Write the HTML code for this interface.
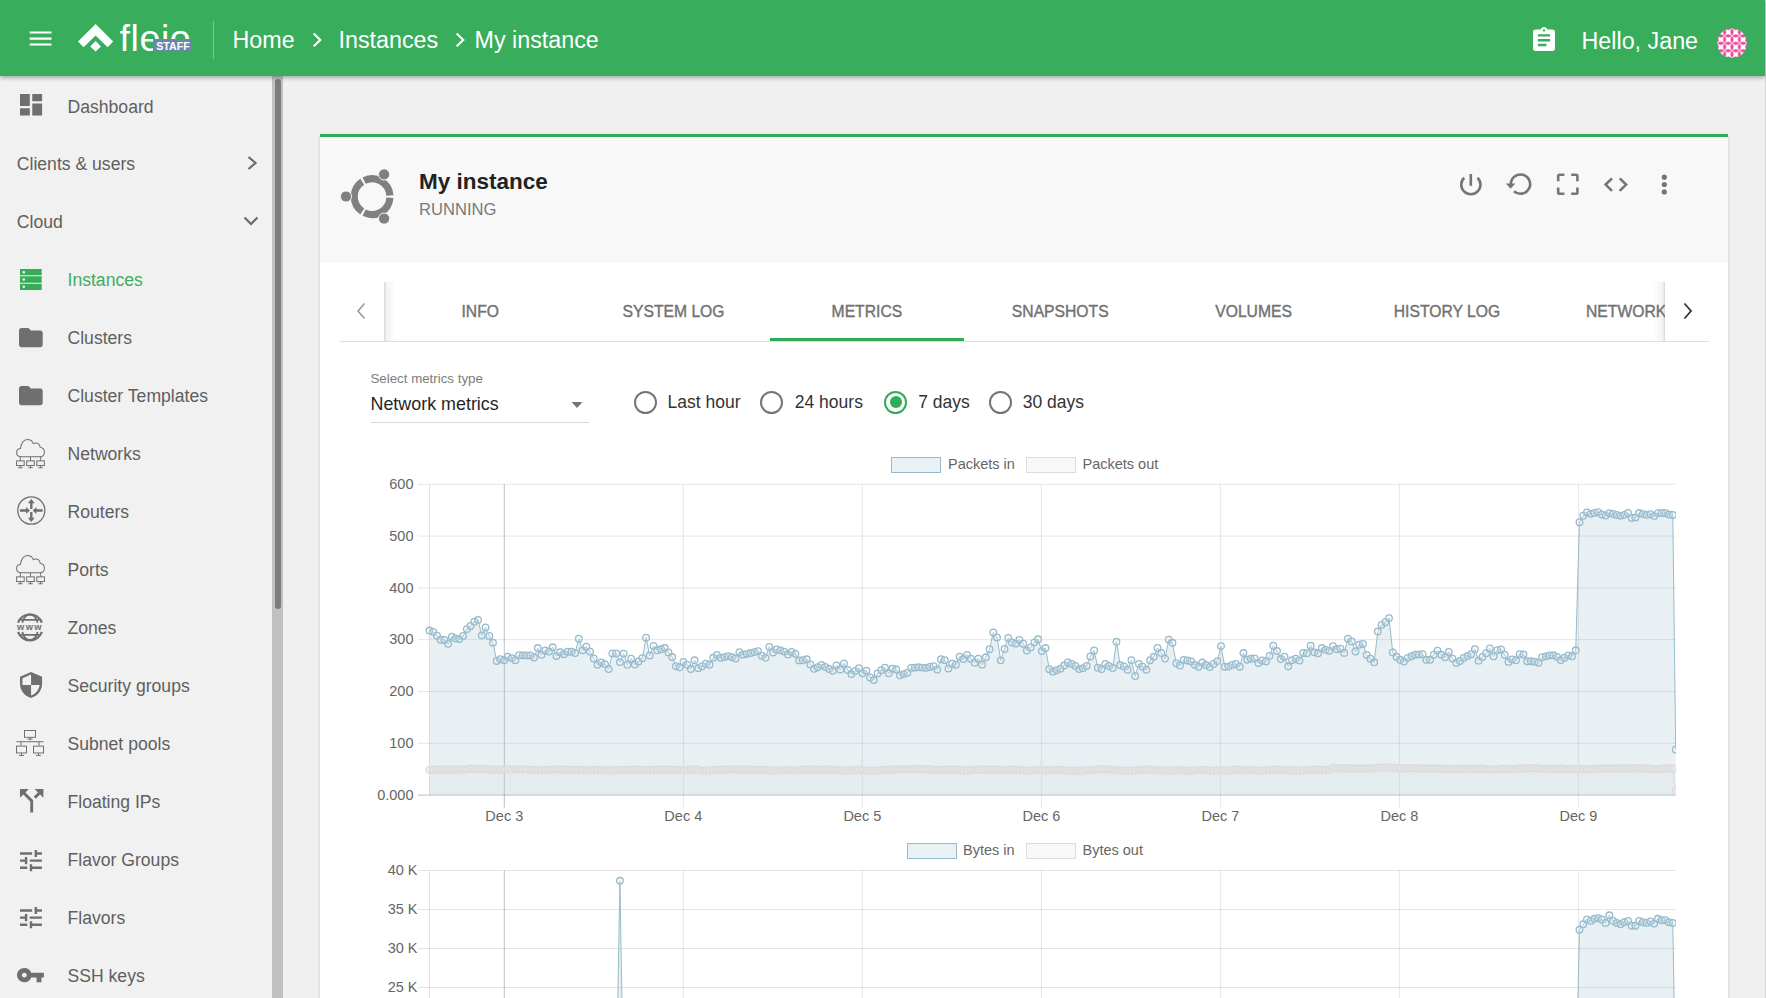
<!DOCTYPE html><html><head><meta charset="utf-8"><title>My instance</title><style>
*{box-sizing:border-box}
html,body{margin:0;padding:0;width:1766px;height:998px;overflow:hidden;background:#f0f0f0;font-family:"Liberation Sans", sans-serif}
.t{position:absolute;white-space:nowrap}
.ic{position:absolute;overflow:visible}
.ct{font-family:"Liberation Sans", sans-serif;font-size:14.5px;fill:#666}
</style></head><body>
<div style="position:absolute;left:1765px;top:0;width:1px;height:998px;background:#d4d4d4"></div>
<div style="position:absolute;left:320px;top:134px;width:1408px;height:900px;background:#fff;box-shadow:0 1px 2.5px rgba(0,0,0,0.2);border-top:3px solid #2fac58"></div>
<div style="position:absolute;left:320px;top:137px;width:1408px;height:126px;background:#f8f8f8"></div>
<svg class="ic" style="left:336px;top:164px;width:64px;height:64px" viewBox="336 164 64 64"><g fill="none" stroke="#808080" stroke-width="7.1"><path d="M389.92 197.69 A17.85 17.85 0 0 1 364.14 212.57"/><path d="M362.25 211.48 A17.85 17.85 0 0 1 362.25 181.72"/><path d="M364.14 180.63 A17.85 17.85 0 0 1 389.92 195.51"/></g><g fill="#808080" stroke="#f8f8f8" stroke-width="1"><circle cx="346" cy="196.5" r="5.6"/><circle cx="384.1" cy="174.4" r="5.6"/><circle cx="384.1" cy="218.6" r="5.6"/></g></svg>
<div class="t" style="left:419.00px;top:170.95px;font-size:22.5px;line-height:22.5px;color:#222;font-weight:bold;">My instance</div>
<div class="t" style="left:419.00px;top:201.55px;font-size:16.6px;line-height:16.6px;color:#7a7a7a;font-weight:normal;">RUNNING</div>
<svg class="ic" style="left:1450px;top:165px;width:230px;height:40px" viewBox="1450 165 230 40"><g fill="none" stroke="#757575" stroke-width="2.6"><path d="M1464.2 177.7 A9.6 9.6 0 1 0 1477.5 177.7"/><path d="M1470.8 174v11.8"/><path d="M1514 191.2 A9.6 9.6 0 1 0 1510.9 184.2"/><path d="M1558.2 181.2v-5.2a1.2 1.2 0 0 1 1.2-1.2h5M1571.2 174.8h5a1.2 1.2 0 0 1 1.2 1.2v5.2M1577.4 187.4v5.2a1.2 1.2 0 0 1-1.2 1.2h-5M1564.4 193.8h-5a1.2 1.2 0 0 1-1.2-1.2v-5.2"/><path d="M1612 178.4l-6.4 6.2 6.4 6.3M1619.7 178.4l6.4 6.2-6.4 6.3"/></g><path fill="#757575" d="M1505.8 183.6h9.6l-4.8 5.2z"/><g fill="#757575"><circle cx="1664.3" cy="177.2" r="2.6"/><circle cx="1664.3" cy="184.5" r="2.6"/><circle cx="1664.3" cy="191.9" r="2.6"/></g></svg>
<div style="position:absolute;left:340px;top:340.5px;width:1369px;height:1px;background:#dedede"></div>
<div style="position:absolute;left:383.5px;top:282px;width:12px;height:59px;background:linear-gradient(to right,rgba(0,0,0,0.16),rgba(0,0,0,0.05) 20%,rgba(0,0,0,0) 100%)"></div>
<div style="position:absolute;left:1653px;top:282px;width:12px;height:59px;background:linear-gradient(to left,rgba(0,0,0,0.16),rgba(0,0,0,0.05) 20%,rgba(0,0,0,0) 100%)"></div>
<svg class="ic" style="left:354px;top:302px;width:14px;height:18px" viewBox="0 0 14 18"><path d="M10.5 1.5 4 9l6.5 7.5" fill="none" stroke="#9a9a9a" stroke-width="1.6"/></svg>
<svg class="ic" style="left:1681px;top:302px;width:14px;height:18px" viewBox="0 0 14 18"><path d="M3.5 1.5 10 9l-6.5 7.5" fill="none" stroke="#333" stroke-width="1.8"/></svg>
<div class="t" style="left:383.50px;width:193.4px;text-align:center;top:303.71px;font-size:15.7px;line-height:15.7px;color:#727272;font-weight:normal;-webkit-text-stroke:0.4px #727272">INFO</div>
<div class="t" style="left:576.85px;width:193.4px;text-align:center;top:303.71px;font-size:15.7px;line-height:15.7px;color:#727272;font-weight:normal;-webkit-text-stroke:0.4px #727272">SYSTEM LOG</div>
<div class="t" style="left:770.20px;width:193.4px;text-align:center;top:303.71px;font-size:15.7px;line-height:15.7px;color:#727272;font-weight:normal;-webkit-text-stroke:0.4px #727272">METRICS</div>
<div class="t" style="left:963.55px;width:193.4px;text-align:center;top:303.71px;font-size:15.7px;line-height:15.7px;color:#727272;font-weight:normal;-webkit-text-stroke:0.4px #727272">SNAPSHOTS</div>
<div class="t" style="left:1156.90px;width:193.4px;text-align:center;top:303.71px;font-size:15.7px;line-height:15.7px;color:#727272;font-weight:normal;-webkit-text-stroke:0.4px #727272">VOLUMES</div>
<div class="t" style="left:1350.25px;width:193.4px;text-align:center;top:303.71px;font-size:15.7px;line-height:15.7px;color:#727272;font-weight:normal;-webkit-text-stroke:0.4px #727272">HISTORY LOG</div>
<div class="t" style="left:1586px;top:303.71px;width:79px;overflow:hidden;font-size:15.7px;line-height:15.7px;color:#727272;font-weight:normal;-webkit-text-stroke:0.4px #727272">NETWORKS</div>
<div style="position:absolute;left:770px;top:338px;width:194px;height:3px;background:#2fac58"></div>
<div class="t" style="left:370.50px;top:371.74px;font-size:13.3px;line-height:13.3px;color:#7d7d7d;font-weight:normal;">Select metrics type</div>
<div class="t" style="left:370.50px;top:396.35px;font-size:17.9px;line-height:17.9px;color:#262626;font-weight:normal;">Network metrics</div>
<svg class="ic" style="left:570px;top:401px;width:14px;height:8px" viewBox="0 0 14 8"><path d="M1.5 1h11L7 7z" fill="#757575"/></svg>
<div style="position:absolute;left:370.5px;top:421.5px;width:218px;height:1px;background:#d9d9d9"></div>
<div style="position:absolute;left:634.2px;top:390.5px;width:23px;height:23px;border-radius:50%;border:2px solid #757575"></div>
<div class="t" style="left:667.60px;top:394.39px;font-size:17.5px;line-height:17.5px;color:#333;font-weight:normal;">Last hour</div>
<div style="position:absolute;left:760.3px;top:390.5px;width:23px;height:23px;border-radius:50%;border:2px solid #757575"></div>
<div class="t" style="left:794.80px;top:394.39px;font-size:17.5px;line-height:17.5px;color:#333;font-weight:normal;">24 hours</div>
<div style="position:absolute;left:884.0px;top:390.5px;width:23px;height:23px;border-radius:50%;border:2px solid #2fac58"></div>
<div style="position:absolute;left:889.5px;top:396px;width:12px;height:12px;border-radius:50%;background:#2fac58"></div>
<div class="t" style="left:918.20px;top:394.39px;font-size:17.5px;line-height:17.5px;color:#333;font-weight:normal;">7 days</div>
<div style="position:absolute;left:989.0px;top:390.5px;width:23px;height:23px;border-radius:50%;border:2px solid #757575"></div>
<div class="t" style="left:1022.80px;top:394.39px;font-size:17.5px;line-height:17.5px;color:#333;font-weight:normal;">30 days</div>
<svg style="position:absolute;left:0;top:0;width:1766px;height:998px" viewBox="0 0 1766 998"><defs><clipPath id="c1"><rect x="425" y="470" width="1251" height="330"/></clipPath><clipPath id="c2"><rect x="425" y="860" width="1251" height="140"/></clipPath></defs><rect x="891.5" y="457.5" width="49" height="15" fill="rgba(151,187,205,0.2)" stroke="#97bbcd" stroke-width="1"/><text x="948" y="469" class="ct">Packets in</text><rect x="1026.5" y="457.5" width="49" height="15" fill="rgba(220,220,220,0.2)" stroke="#dcdcdc" stroke-width="1"/><text x="1082.5" y="469" class="ct">Packets out</text><line x1="418" y1="484.30" x2="1676" y2="484.30" stroke="rgba(0,0,0,0.1)" stroke-width="1"/><text x="413.5" y="488.90" class="ct" text-anchor="end">600</text><line x1="418" y1="536.10" x2="1676" y2="536.10" stroke="rgba(0,0,0,0.1)" stroke-width="1"/><text x="413.5" y="540.70" class="ct" text-anchor="end">500</text><line x1="418" y1="587.90" x2="1676" y2="587.90" stroke="rgba(0,0,0,0.1)" stroke-width="1"/><text x="413.5" y="592.50" class="ct" text-anchor="end">400</text><line x1="418" y1="639.70" x2="1676" y2="639.70" stroke="rgba(0,0,0,0.1)" stroke-width="1"/><text x="413.5" y="644.30" class="ct" text-anchor="end">300</text><line x1="418" y1="691.50" x2="1676" y2="691.50" stroke="rgba(0,0,0,0.1)" stroke-width="1"/><text x="413.5" y="696.10" class="ct" text-anchor="end">200</text><line x1="418" y1="743.30" x2="1676" y2="743.30" stroke="rgba(0,0,0,0.1)" stroke-width="1"/><text x="413.5" y="747.90" class="ct" text-anchor="end">100</text><line x1="418" y1="795.10" x2="1676" y2="795.10" stroke="rgba(0,0,0,0.25)" stroke-width="1"/><text x="413.5" y="799.70" class="ct" text-anchor="end">0.000</text><line x1="429.5" y1="484.3" x2="429.5" y2="795.1" stroke="rgba(0,0,0,0.1)"/><line x1="504.30" y1="484.3" x2="504.30" y2="807.5" stroke="rgba(0,0,0,0.25)"/><text x="504.30" y="821" class="ct" text-anchor="middle">Dec 3</text><line x1="683.32" y1="484.3" x2="683.32" y2="807.5" stroke="rgba(0,0,0,0.1)"/><text x="683.32" y="821" class="ct" text-anchor="middle">Dec 4</text><line x1="862.34" y1="484.3" x2="862.34" y2="807.5" stroke="rgba(0,0,0,0.1)"/><text x="862.34" y="821" class="ct" text-anchor="middle">Dec 5</text><line x1="1041.36" y1="484.3" x2="1041.36" y2="807.5" stroke="rgba(0,0,0,0.1)"/><text x="1041.36" y="821" class="ct" text-anchor="middle">Dec 6</text><line x1="1220.38" y1="484.3" x2="1220.38" y2="807.5" stroke="rgba(0,0,0,0.1)"/><text x="1220.38" y="821" class="ct" text-anchor="middle">Dec 7</text><line x1="1399.40" y1="484.3" x2="1399.40" y2="807.5" stroke="rgba(0,0,0,0.1)"/><text x="1399.40" y="821" class="ct" text-anchor="middle">Dec 8</text><line x1="1578.42" y1="484.3" x2="1578.42" y2="807.5" stroke="rgba(0,0,0,0.1)"/><text x="1578.42" y="821" class="ct" text-anchor="middle">Dec 9</text><g clip-path="url(#c1)"><polygon points="429.50,795.1 429.50,630.56 433.23,631.84 436.97,635.66 440.70,639.80 444.43,639.96 448.17,643.87 451.90,636.74 455.64,638.39 459.37,639.12 463.10,636.00 466.84,629.09 470.57,626.02 474.30,621.75 478.04,619.90 481.77,635.35 485.50,627.51 489.24,635.90 492.97,642.70 496.71,660.95 500.44,659.11 504.17,660.24 507.91,656.69 511.64,658.12 515.37,660.13 519.11,655.17 522.84,655.22 526.57,655.40 530.31,655.40 534.04,657.52 537.78,648.04 541.51,654.79 545.24,650.41 548.98,651.61 552.71,647.32 556.44,655.96 560.18,652.32 563.91,654.19 567.64,651.70 571.38,651.70 575.11,653.00 578.85,638.74 582.58,650.33 586.31,646.72 590.05,651.63 593.78,658.46 597.51,664.69 601.25,662.33 604.98,664.09 608.71,669.10 612.45,653.50 616.18,653.50 619.92,662.10 623.65,653.62 627.38,664.65 631.12,658.64 634.85,664.55 638.58,661.55 642.32,658.17 646.05,637.70 649.78,655.50 653.52,645.99 657.25,650.30 660.99,649.30 664.72,648.06 668.45,652.41 672.19,657.03 675.92,666.24 679.65,667.28 683.39,662.01 687.12,664.65 690.85,669.03 694.59,660.32 698.32,668.18 702.06,666.23 705.79,663.74 709.52,664.74 713.26,657.78 716.99,654.94 720.72,657.85 724.46,657.10 728.19,656.15 731.92,657.27 735.66,658.52 739.39,652.09 743.13,654.58 746.86,653.96 750.59,653.05 754.33,652.11 758.06,651.16 761.79,655.70 765.53,657.86 769.26,646.87 772.99,652.44 776.73,649.48 780.46,650.35 784.20,651.60 787.93,654.57 791.66,651.90 795.40,653.87 799.13,660.42 802.86,660.22 806.60,659.28 810.33,664.39 814.06,668.81 817.80,667.18 821.53,664.96 825.27,666.83 829.00,669.02 832.73,670.83 836.47,665.36 840.20,669.43 843.93,663.42 847.67,670.00 851.40,674.03 855.13,670.90 858.87,668.15 862.60,673.34 866.34,670.65 870.07,677.44 873.80,680.03 877.54,673.39 881.27,670.26 885.00,667.63 888.74,673.32 892.47,668.64 896.20,669.54 899.94,675.35 903.67,674.11 907.41,672.76 911.14,667.89 914.87,667.59 918.61,667.31 922.34,667.61 926.07,667.88 929.81,666.97 933.54,666.24 937.27,669.59 941.01,659.22 944.74,660.13 948.48,668.50 952.21,663.63 955.94,664.71 959.68,656.75 963.41,659.07 967.14,654.84 970.88,658.69 974.61,662.77 978.34,658.67 982.08,664.65 985.81,657.28 989.55,649.20 993.28,632.50 997.01,637.40 1000.75,660.36 1004.48,648.97 1008.21,638.02 1011.95,642.41 1015.68,643.59 1019.41,639.91 1023.15,643.69 1026.88,650.47 1030.62,647.38 1034.35,642.36 1038.08,639.31 1041.82,651.09 1045.55,648.04 1049.28,669.20 1053.02,671.65 1056.75,670.19 1060.48,668.65 1064.22,665.56 1067.95,662.42 1071.68,663.93 1075.42,665.92 1079.15,669.08 1082.89,668.13 1086.62,665.93 1090.35,656.47 1094.09,650.50 1097.82,667.64 1101.55,669.04 1105.29,663.88 1109.02,666.02 1112.75,667.90 1116.49,641.80 1120.22,664.96 1123.96,666.41 1127.69,669.75 1131.42,660.25 1135.16,676.00 1138.89,663.86 1142.62,666.66 1146.36,669.74 1150.09,660.24 1153.82,656.78 1157.56,648.00 1161.29,653.06 1165.03,658.60 1168.76,639.61 1172.49,642.82 1176.23,663.26 1179.96,665.49 1183.69,659.87 1187.43,660.52 1191.16,661.46 1194.89,665.07 1198.63,666.74 1202.36,662.54 1206.10,665.03 1209.83,667.02 1213.56,663.90 1217.30,661.10 1221.03,646.10 1224.76,666.70 1228.50,666.58 1232.23,665.01 1235.96,663.90 1239.70,666.70 1243.43,653.06 1247.17,659.71 1250.90,658.82 1254.63,658.49 1258.37,663.07 1262.10,660.51 1265.83,661.38 1269.57,655.91 1273.30,645.77 1277.03,651.04 1280.77,659.06 1284.50,656.68 1288.24,666.31 1291.97,660.32 1295.70,658.73 1299.44,660.50 1303.17,652.93 1306.90,653.17 1310.64,645.75 1314.37,652.36 1318.10,653.30 1321.84,648.07 1325.57,649.86 1329.31,650.83 1333.04,646.22 1336.77,649.17 1340.51,648.72 1344.24,652.90 1347.97,638.71 1351.71,641.41 1355.44,651.44 1359.17,644.74 1362.91,643.93 1366.64,654.94 1370.38,658.68 1374.11,662.30 1377.84,631.54 1381.58,624.85 1385.31,622.27 1389.04,618.10 1392.78,652.39 1396.51,656.79 1400.24,659.82 1403.98,661.62 1407.71,657.85 1411.45,656.31 1415.18,654.79 1418.91,654.49 1422.65,654.27 1426.38,659.80 1430.11,659.78 1433.85,654.74 1437.58,650.59 1441.31,654.81 1445.05,657.23 1448.78,651.85 1452.52,658.62 1456.25,662.88 1459.98,661.01 1463.72,657.89 1467.45,656.05 1471.18,654.21 1474.92,649.20 1478.65,660.65 1482.38,656.92 1486.12,653.15 1489.85,648.49 1493.59,656.28 1497.32,650.22 1501.05,649.38 1504.79,654.98 1508.52,661.91 1512.25,659.36 1515.99,660.30 1519.72,654.12 1523.45,654.51 1527.19,661.30 1530.92,661.30 1534.66,661.63 1538.39,662.72 1542.12,657.27 1545.86,656.34 1549.59,655.40 1553.32,655.30 1557.06,656.83 1560.79,660.09 1564.52,657.66 1568.26,655.36 1571.99,656.30 1575.73,650.30 1579.46,522.20 1583.19,515.74 1586.93,512.46 1590.66,513.83 1594.39,512.90 1598.13,512.08 1601.86,514.43 1605.59,515.55 1609.33,513.08 1613.06,514.02 1616.80,514.95 1620.53,515.87 1624.26,514.87 1628.00,513.00 1631.73,518.00 1635.46,517.42 1639.20,513.05 1642.93,513.98 1646.66,514.92 1650.40,514.20 1654.13,515.90 1657.87,513.10 1661.60,513.00 1665.33,513.00 1669.07,514.53 1672.80,515.00 1675.70,749.60 1675.70,795.1" fill="rgba(151,187,205,0.22)"/><polyline points="429.50,630.56 433.23,631.84 436.97,635.66 440.70,639.80 444.43,639.96 448.17,643.87 451.90,636.74 455.64,638.39 459.37,639.12 463.10,636.00 466.84,629.09 470.57,626.02 474.30,621.75 478.04,619.90 481.77,635.35 485.50,627.51 489.24,635.90 492.97,642.70 496.71,660.95 500.44,659.11 504.17,660.24 507.91,656.69 511.64,658.12 515.37,660.13 519.11,655.17 522.84,655.22 526.57,655.40 530.31,655.40 534.04,657.52 537.78,648.04 541.51,654.79 545.24,650.41 548.98,651.61 552.71,647.32 556.44,655.96 560.18,652.32 563.91,654.19 567.64,651.70 571.38,651.70 575.11,653.00 578.85,638.74 582.58,650.33 586.31,646.72 590.05,651.63 593.78,658.46 597.51,664.69 601.25,662.33 604.98,664.09 608.71,669.10 612.45,653.50 616.18,653.50 619.92,662.10 623.65,653.62 627.38,664.65 631.12,658.64 634.85,664.55 638.58,661.55 642.32,658.17 646.05,637.70 649.78,655.50 653.52,645.99 657.25,650.30 660.99,649.30 664.72,648.06 668.45,652.41 672.19,657.03 675.92,666.24 679.65,667.28 683.39,662.01 687.12,664.65 690.85,669.03 694.59,660.32 698.32,668.18 702.06,666.23 705.79,663.74 709.52,664.74 713.26,657.78 716.99,654.94 720.72,657.85 724.46,657.10 728.19,656.15 731.92,657.27 735.66,658.52 739.39,652.09 743.13,654.58 746.86,653.96 750.59,653.05 754.33,652.11 758.06,651.16 761.79,655.70 765.53,657.86 769.26,646.87 772.99,652.44 776.73,649.48 780.46,650.35 784.20,651.60 787.93,654.57 791.66,651.90 795.40,653.87 799.13,660.42 802.86,660.22 806.60,659.28 810.33,664.39 814.06,668.81 817.80,667.18 821.53,664.96 825.27,666.83 829.00,669.02 832.73,670.83 836.47,665.36 840.20,669.43 843.93,663.42 847.67,670.00 851.40,674.03 855.13,670.90 858.87,668.15 862.60,673.34 866.34,670.65 870.07,677.44 873.80,680.03 877.54,673.39 881.27,670.26 885.00,667.63 888.74,673.32 892.47,668.64 896.20,669.54 899.94,675.35 903.67,674.11 907.41,672.76 911.14,667.89 914.87,667.59 918.61,667.31 922.34,667.61 926.07,667.88 929.81,666.97 933.54,666.24 937.27,669.59 941.01,659.22 944.74,660.13 948.48,668.50 952.21,663.63 955.94,664.71 959.68,656.75 963.41,659.07 967.14,654.84 970.88,658.69 974.61,662.77 978.34,658.67 982.08,664.65 985.81,657.28 989.55,649.20 993.28,632.50 997.01,637.40 1000.75,660.36 1004.48,648.97 1008.21,638.02 1011.95,642.41 1015.68,643.59 1019.41,639.91 1023.15,643.69 1026.88,650.47 1030.62,647.38 1034.35,642.36 1038.08,639.31 1041.82,651.09 1045.55,648.04 1049.28,669.20 1053.02,671.65 1056.75,670.19 1060.48,668.65 1064.22,665.56 1067.95,662.42 1071.68,663.93 1075.42,665.92 1079.15,669.08 1082.89,668.13 1086.62,665.93 1090.35,656.47 1094.09,650.50 1097.82,667.64 1101.55,669.04 1105.29,663.88 1109.02,666.02 1112.75,667.90 1116.49,641.80 1120.22,664.96 1123.96,666.41 1127.69,669.75 1131.42,660.25 1135.16,676.00 1138.89,663.86 1142.62,666.66 1146.36,669.74 1150.09,660.24 1153.82,656.78 1157.56,648.00 1161.29,653.06 1165.03,658.60 1168.76,639.61 1172.49,642.82 1176.23,663.26 1179.96,665.49 1183.69,659.87 1187.43,660.52 1191.16,661.46 1194.89,665.07 1198.63,666.74 1202.36,662.54 1206.10,665.03 1209.83,667.02 1213.56,663.90 1217.30,661.10 1221.03,646.10 1224.76,666.70 1228.50,666.58 1232.23,665.01 1235.96,663.90 1239.70,666.70 1243.43,653.06 1247.17,659.71 1250.90,658.82 1254.63,658.49 1258.37,663.07 1262.10,660.51 1265.83,661.38 1269.57,655.91 1273.30,645.77 1277.03,651.04 1280.77,659.06 1284.50,656.68 1288.24,666.31 1291.97,660.32 1295.70,658.73 1299.44,660.50 1303.17,652.93 1306.90,653.17 1310.64,645.75 1314.37,652.36 1318.10,653.30 1321.84,648.07 1325.57,649.86 1329.31,650.83 1333.04,646.22 1336.77,649.17 1340.51,648.72 1344.24,652.90 1347.97,638.71 1351.71,641.41 1355.44,651.44 1359.17,644.74 1362.91,643.93 1366.64,654.94 1370.38,658.68 1374.11,662.30 1377.84,631.54 1381.58,624.85 1385.31,622.27 1389.04,618.10 1392.78,652.39 1396.51,656.79 1400.24,659.82 1403.98,661.62 1407.71,657.85 1411.45,656.31 1415.18,654.79 1418.91,654.49 1422.65,654.27 1426.38,659.80 1430.11,659.78 1433.85,654.74 1437.58,650.59 1441.31,654.81 1445.05,657.23 1448.78,651.85 1452.52,658.62 1456.25,662.88 1459.98,661.01 1463.72,657.89 1467.45,656.05 1471.18,654.21 1474.92,649.20 1478.65,660.65 1482.38,656.92 1486.12,653.15 1489.85,648.49 1493.59,656.28 1497.32,650.22 1501.05,649.38 1504.79,654.98 1508.52,661.91 1512.25,659.36 1515.99,660.30 1519.72,654.12 1523.45,654.51 1527.19,661.30 1530.92,661.30 1534.66,661.63 1538.39,662.72 1542.12,657.27 1545.86,656.34 1549.59,655.40 1553.32,655.30 1557.06,656.83 1560.79,660.09 1564.52,657.66 1568.26,655.36 1571.99,656.30 1575.73,650.30 1579.46,522.20 1583.19,515.74 1586.93,512.46 1590.66,513.83 1594.39,512.90 1598.13,512.08 1601.86,514.43 1605.59,515.55 1609.33,513.08 1613.06,514.02 1616.80,514.95 1620.53,515.87 1624.26,514.87 1628.00,513.00 1631.73,518.00 1635.46,517.42 1639.20,513.05 1642.93,513.98 1646.66,514.92 1650.40,514.20 1654.13,515.90 1657.87,513.10 1661.60,513.00 1665.33,513.00 1669.07,514.53 1672.80,515.00 1675.70,749.60" fill="none" stroke="#97bbcd" stroke-width="1"/><g fill="rgba(232,239,243,0.25)" stroke="#97bbcd" stroke-width="1.3"><circle cx="429.50" cy="630.56" r="3.3"/><circle cx="433.23" cy="631.84" r="3.3"/><circle cx="436.97" cy="635.66" r="3.3"/><circle cx="440.70" cy="639.80" r="3.3"/><circle cx="444.43" cy="639.96" r="3.3"/><circle cx="448.17" cy="643.87" r="3.3"/><circle cx="451.90" cy="636.74" r="3.3"/><circle cx="455.64" cy="638.39" r="3.3"/><circle cx="459.37" cy="639.12" r="3.3"/><circle cx="463.10" cy="636.00" r="3.3"/><circle cx="466.84" cy="629.09" r="3.3"/><circle cx="470.57" cy="626.02" r="3.3"/><circle cx="474.30" cy="621.75" r="3.3"/><circle cx="478.04" cy="619.90" r="3.3"/><circle cx="481.77" cy="635.35" r="3.3"/><circle cx="485.50" cy="627.51" r="3.3"/><circle cx="489.24" cy="635.90" r="3.3"/><circle cx="492.97" cy="642.70" r="3.3"/><circle cx="496.71" cy="660.95" r="3.3"/><circle cx="500.44" cy="659.11" r="3.3"/><circle cx="504.17" cy="660.24" r="3.3"/><circle cx="507.91" cy="656.69" r="3.3"/><circle cx="511.64" cy="658.12" r="3.3"/><circle cx="515.37" cy="660.13" r="3.3"/><circle cx="519.11" cy="655.17" r="3.3"/><circle cx="522.84" cy="655.22" r="3.3"/><circle cx="526.57" cy="655.40" r="3.3"/><circle cx="530.31" cy="655.40" r="3.3"/><circle cx="534.04" cy="657.52" r="3.3"/><circle cx="537.78" cy="648.04" r="3.3"/><circle cx="541.51" cy="654.79" r="3.3"/><circle cx="545.24" cy="650.41" r="3.3"/><circle cx="548.98" cy="651.61" r="3.3"/><circle cx="552.71" cy="647.32" r="3.3"/><circle cx="556.44" cy="655.96" r="3.3"/><circle cx="560.18" cy="652.32" r="3.3"/><circle cx="563.91" cy="654.19" r="3.3"/><circle cx="567.64" cy="651.70" r="3.3"/><circle cx="571.38" cy="651.70" r="3.3"/><circle cx="575.11" cy="653.00" r="3.3"/><circle cx="578.85" cy="638.74" r="3.3"/><circle cx="582.58" cy="650.33" r="3.3"/><circle cx="586.31" cy="646.72" r="3.3"/><circle cx="590.05" cy="651.63" r="3.3"/><circle cx="593.78" cy="658.46" r="3.3"/><circle cx="597.51" cy="664.69" r="3.3"/><circle cx="601.25" cy="662.33" r="3.3"/><circle cx="604.98" cy="664.09" r="3.3"/><circle cx="608.71" cy="669.10" r="3.3"/><circle cx="612.45" cy="653.50" r="3.3"/><circle cx="616.18" cy="653.50" r="3.3"/><circle cx="619.92" cy="662.10" r="3.3"/><circle cx="623.65" cy="653.62" r="3.3"/><circle cx="627.38" cy="664.65" r="3.3"/><circle cx="631.12" cy="658.64" r="3.3"/><circle cx="634.85" cy="664.55" r="3.3"/><circle cx="638.58" cy="661.55" r="3.3"/><circle cx="642.32" cy="658.17" r="3.3"/><circle cx="646.05" cy="637.70" r="3.3"/><circle cx="649.78" cy="655.50" r="3.3"/><circle cx="653.52" cy="645.99" r="3.3"/><circle cx="657.25" cy="650.30" r="3.3"/><circle cx="660.99" cy="649.30" r="3.3"/><circle cx="664.72" cy="648.06" r="3.3"/><circle cx="668.45" cy="652.41" r="3.3"/><circle cx="672.19" cy="657.03" r="3.3"/><circle cx="675.92" cy="666.24" r="3.3"/><circle cx="679.65" cy="667.28" r="3.3"/><circle cx="683.39" cy="662.01" r="3.3"/><circle cx="687.12" cy="664.65" r="3.3"/><circle cx="690.85" cy="669.03" r="3.3"/><circle cx="694.59" cy="660.32" r="3.3"/><circle cx="698.32" cy="668.18" r="3.3"/><circle cx="702.06" cy="666.23" r="3.3"/><circle cx="705.79" cy="663.74" r="3.3"/><circle cx="709.52" cy="664.74" r="3.3"/><circle cx="713.26" cy="657.78" r="3.3"/><circle cx="716.99" cy="654.94" r="3.3"/><circle cx="720.72" cy="657.85" r="3.3"/><circle cx="724.46" cy="657.10" r="3.3"/><circle cx="728.19" cy="656.15" r="3.3"/><circle cx="731.92" cy="657.27" r="3.3"/><circle cx="735.66" cy="658.52" r="3.3"/><circle cx="739.39" cy="652.09" r="3.3"/><circle cx="743.13" cy="654.58" r="3.3"/><circle cx="746.86" cy="653.96" r="3.3"/><circle cx="750.59" cy="653.05" r="3.3"/><circle cx="754.33" cy="652.11" r="3.3"/><circle cx="758.06" cy="651.16" r="3.3"/><circle cx="761.79" cy="655.70" r="3.3"/><circle cx="765.53" cy="657.86" r="3.3"/><circle cx="769.26" cy="646.87" r="3.3"/><circle cx="772.99" cy="652.44" r="3.3"/><circle cx="776.73" cy="649.48" r="3.3"/><circle cx="780.46" cy="650.35" r="3.3"/><circle cx="784.20" cy="651.60" r="3.3"/><circle cx="787.93" cy="654.57" r="3.3"/><circle cx="791.66" cy="651.90" r="3.3"/><circle cx="795.40" cy="653.87" r="3.3"/><circle cx="799.13" cy="660.42" r="3.3"/><circle cx="802.86" cy="660.22" r="3.3"/><circle cx="806.60" cy="659.28" r="3.3"/><circle cx="810.33" cy="664.39" r="3.3"/><circle cx="814.06" cy="668.81" r="3.3"/><circle cx="817.80" cy="667.18" r="3.3"/><circle cx="821.53" cy="664.96" r="3.3"/><circle cx="825.27" cy="666.83" r="3.3"/><circle cx="829.00" cy="669.02" r="3.3"/><circle cx="832.73" cy="670.83" r="3.3"/><circle cx="836.47" cy="665.36" r="3.3"/><circle cx="840.20" cy="669.43" r="3.3"/><circle cx="843.93" cy="663.42" r="3.3"/><circle cx="847.67" cy="670.00" r="3.3"/><circle cx="851.40" cy="674.03" r="3.3"/><circle cx="855.13" cy="670.90" r="3.3"/><circle cx="858.87" cy="668.15" r="3.3"/><circle cx="862.60" cy="673.34" r="3.3"/><circle cx="866.34" cy="670.65" r="3.3"/><circle cx="870.07" cy="677.44" r="3.3"/><circle cx="873.80" cy="680.03" r="3.3"/><circle cx="877.54" cy="673.39" r="3.3"/><circle cx="881.27" cy="670.26" r="3.3"/><circle cx="885.00" cy="667.63" r="3.3"/><circle cx="888.74" cy="673.32" r="3.3"/><circle cx="892.47" cy="668.64" r="3.3"/><circle cx="896.20" cy="669.54" r="3.3"/><circle cx="899.94" cy="675.35" r="3.3"/><circle cx="903.67" cy="674.11" r="3.3"/><circle cx="907.41" cy="672.76" r="3.3"/><circle cx="911.14" cy="667.89" r="3.3"/><circle cx="914.87" cy="667.59" r="3.3"/><circle cx="918.61" cy="667.31" r="3.3"/><circle cx="922.34" cy="667.61" r="3.3"/><circle cx="926.07" cy="667.88" r="3.3"/><circle cx="929.81" cy="666.97" r="3.3"/><circle cx="933.54" cy="666.24" r="3.3"/><circle cx="937.27" cy="669.59" r="3.3"/><circle cx="941.01" cy="659.22" r="3.3"/><circle cx="944.74" cy="660.13" r="3.3"/><circle cx="948.48" cy="668.50" r="3.3"/><circle cx="952.21" cy="663.63" r="3.3"/><circle cx="955.94" cy="664.71" r="3.3"/><circle cx="959.68" cy="656.75" r="3.3"/><circle cx="963.41" cy="659.07" r="3.3"/><circle cx="967.14" cy="654.84" r="3.3"/><circle cx="970.88" cy="658.69" r="3.3"/><circle cx="974.61" cy="662.77" r="3.3"/><circle cx="978.34" cy="658.67" r="3.3"/><circle cx="982.08" cy="664.65" r="3.3"/><circle cx="985.81" cy="657.28" r="3.3"/><circle cx="989.55" cy="649.20" r="3.3"/><circle cx="993.28" cy="632.50" r="3.3"/><circle cx="997.01" cy="637.40" r="3.3"/><circle cx="1000.75" cy="660.36" r="3.3"/><circle cx="1004.48" cy="648.97" r="3.3"/><circle cx="1008.21" cy="638.02" r="3.3"/><circle cx="1011.95" cy="642.41" r="3.3"/><circle cx="1015.68" cy="643.59" r="3.3"/><circle cx="1019.41" cy="639.91" r="3.3"/><circle cx="1023.15" cy="643.69" r="3.3"/><circle cx="1026.88" cy="650.47" r="3.3"/><circle cx="1030.62" cy="647.38" r="3.3"/><circle cx="1034.35" cy="642.36" r="3.3"/><circle cx="1038.08" cy="639.31" r="3.3"/><circle cx="1041.82" cy="651.09" r="3.3"/><circle cx="1045.55" cy="648.04" r="3.3"/><circle cx="1049.28" cy="669.20" r="3.3"/><circle cx="1053.02" cy="671.65" r="3.3"/><circle cx="1056.75" cy="670.19" r="3.3"/><circle cx="1060.48" cy="668.65" r="3.3"/><circle cx="1064.22" cy="665.56" r="3.3"/><circle cx="1067.95" cy="662.42" r="3.3"/><circle cx="1071.68" cy="663.93" r="3.3"/><circle cx="1075.42" cy="665.92" r="3.3"/><circle cx="1079.15" cy="669.08" r="3.3"/><circle cx="1082.89" cy="668.13" r="3.3"/><circle cx="1086.62" cy="665.93" r="3.3"/><circle cx="1090.35" cy="656.47" r="3.3"/><circle cx="1094.09" cy="650.50" r="3.3"/><circle cx="1097.82" cy="667.64" r="3.3"/><circle cx="1101.55" cy="669.04" r="3.3"/><circle cx="1105.29" cy="663.88" r="3.3"/><circle cx="1109.02" cy="666.02" r="3.3"/><circle cx="1112.75" cy="667.90" r="3.3"/><circle cx="1116.49" cy="641.80" r="3.3"/><circle cx="1120.22" cy="664.96" r="3.3"/><circle cx="1123.96" cy="666.41" r="3.3"/><circle cx="1127.69" cy="669.75" r="3.3"/><circle cx="1131.42" cy="660.25" r="3.3"/><circle cx="1135.16" cy="676.00" r="3.3"/><circle cx="1138.89" cy="663.86" r="3.3"/><circle cx="1142.62" cy="666.66" r="3.3"/><circle cx="1146.36" cy="669.74" r="3.3"/><circle cx="1150.09" cy="660.24" r="3.3"/><circle cx="1153.82" cy="656.78" r="3.3"/><circle cx="1157.56" cy="648.00" r="3.3"/><circle cx="1161.29" cy="653.06" r="3.3"/><circle cx="1165.03" cy="658.60" r="3.3"/><circle cx="1168.76" cy="639.61" r="3.3"/><circle cx="1172.49" cy="642.82" r="3.3"/><circle cx="1176.23" cy="663.26" r="3.3"/><circle cx="1179.96" cy="665.49" r="3.3"/><circle cx="1183.69" cy="659.87" r="3.3"/><circle cx="1187.43" cy="660.52" r="3.3"/><circle cx="1191.16" cy="661.46" r="3.3"/><circle cx="1194.89" cy="665.07" r="3.3"/><circle cx="1198.63" cy="666.74" r="3.3"/><circle cx="1202.36" cy="662.54" r="3.3"/><circle cx="1206.10" cy="665.03" r="3.3"/><circle cx="1209.83" cy="667.02" r="3.3"/><circle cx="1213.56" cy="663.90" r="3.3"/><circle cx="1217.30" cy="661.10" r="3.3"/><circle cx="1221.03" cy="646.10" r="3.3"/><circle cx="1224.76" cy="666.70" r="3.3"/><circle cx="1228.50" cy="666.58" r="3.3"/><circle cx="1232.23" cy="665.01" r="3.3"/><circle cx="1235.96" cy="663.90" r="3.3"/><circle cx="1239.70" cy="666.70" r="3.3"/><circle cx="1243.43" cy="653.06" r="3.3"/><circle cx="1247.17" cy="659.71" r="3.3"/><circle cx="1250.90" cy="658.82" r="3.3"/><circle cx="1254.63" cy="658.49" r="3.3"/><circle cx="1258.37" cy="663.07" r="3.3"/><circle cx="1262.10" cy="660.51" r="3.3"/><circle cx="1265.83" cy="661.38" r="3.3"/><circle cx="1269.57" cy="655.91" r="3.3"/><circle cx="1273.30" cy="645.77" r="3.3"/><circle cx="1277.03" cy="651.04" r="3.3"/><circle cx="1280.77" cy="659.06" r="3.3"/><circle cx="1284.50" cy="656.68" r="3.3"/><circle cx="1288.24" cy="666.31" r="3.3"/><circle cx="1291.97" cy="660.32" r="3.3"/><circle cx="1295.70" cy="658.73" r="3.3"/><circle cx="1299.44" cy="660.50" r="3.3"/><circle cx="1303.17" cy="652.93" r="3.3"/><circle cx="1306.90" cy="653.17" r="3.3"/><circle cx="1310.64" cy="645.75" r="3.3"/><circle cx="1314.37" cy="652.36" r="3.3"/><circle cx="1318.10" cy="653.30" r="3.3"/><circle cx="1321.84" cy="648.07" r="3.3"/><circle cx="1325.57" cy="649.86" r="3.3"/><circle cx="1329.31" cy="650.83" r="3.3"/><circle cx="1333.04" cy="646.22" r="3.3"/><circle cx="1336.77" cy="649.17" r="3.3"/><circle cx="1340.51" cy="648.72" r="3.3"/><circle cx="1344.24" cy="652.90" r="3.3"/><circle cx="1347.97" cy="638.71" r="3.3"/><circle cx="1351.71" cy="641.41" r="3.3"/><circle cx="1355.44" cy="651.44" r="3.3"/><circle cx="1359.17" cy="644.74" r="3.3"/><circle cx="1362.91" cy="643.93" r="3.3"/><circle cx="1366.64" cy="654.94" r="3.3"/><circle cx="1370.38" cy="658.68" r="3.3"/><circle cx="1374.11" cy="662.30" r="3.3"/><circle cx="1377.84" cy="631.54" r="3.3"/><circle cx="1381.58" cy="624.85" r="3.3"/><circle cx="1385.31" cy="622.27" r="3.3"/><circle cx="1389.04" cy="618.10" r="3.3"/><circle cx="1392.78" cy="652.39" r="3.3"/><circle cx="1396.51" cy="656.79" r="3.3"/><circle cx="1400.24" cy="659.82" r="3.3"/><circle cx="1403.98" cy="661.62" r="3.3"/><circle cx="1407.71" cy="657.85" r="3.3"/><circle cx="1411.45" cy="656.31" r="3.3"/><circle cx="1415.18" cy="654.79" r="3.3"/><circle cx="1418.91" cy="654.49" r="3.3"/><circle cx="1422.65" cy="654.27" r="3.3"/><circle cx="1426.38" cy="659.80" r="3.3"/><circle cx="1430.11" cy="659.78" r="3.3"/><circle cx="1433.85" cy="654.74" r="3.3"/><circle cx="1437.58" cy="650.59" r="3.3"/><circle cx="1441.31" cy="654.81" r="3.3"/><circle cx="1445.05" cy="657.23" r="3.3"/><circle cx="1448.78" cy="651.85" r="3.3"/><circle cx="1452.52" cy="658.62" r="3.3"/><circle cx="1456.25" cy="662.88" r="3.3"/><circle cx="1459.98" cy="661.01" r="3.3"/><circle cx="1463.72" cy="657.89" r="3.3"/><circle cx="1467.45" cy="656.05" r="3.3"/><circle cx="1471.18" cy="654.21" r="3.3"/><circle cx="1474.92" cy="649.20" r="3.3"/><circle cx="1478.65" cy="660.65" r="3.3"/><circle cx="1482.38" cy="656.92" r="3.3"/><circle cx="1486.12" cy="653.15" r="3.3"/><circle cx="1489.85" cy="648.49" r="3.3"/><circle cx="1493.59" cy="656.28" r="3.3"/><circle cx="1497.32" cy="650.22" r="3.3"/><circle cx="1501.05" cy="649.38" r="3.3"/><circle cx="1504.79" cy="654.98" r="3.3"/><circle cx="1508.52" cy="661.91" r="3.3"/><circle cx="1512.25" cy="659.36" r="3.3"/><circle cx="1515.99" cy="660.30" r="3.3"/><circle cx="1519.72" cy="654.12" r="3.3"/><circle cx="1523.45" cy="654.51" r="3.3"/><circle cx="1527.19" cy="661.30" r="3.3"/><circle cx="1530.92" cy="661.30" r="3.3"/><circle cx="1534.66" cy="661.63" r="3.3"/><circle cx="1538.39" cy="662.72" r="3.3"/><circle cx="1542.12" cy="657.27" r="3.3"/><circle cx="1545.86" cy="656.34" r="3.3"/><circle cx="1549.59" cy="655.40" r="3.3"/><circle cx="1553.32" cy="655.30" r="3.3"/><circle cx="1557.06" cy="656.83" r="3.3"/><circle cx="1560.79" cy="660.09" r="3.3"/><circle cx="1564.52" cy="657.66" r="3.3"/><circle cx="1568.26" cy="655.36" r="3.3"/><circle cx="1571.99" cy="656.30" r="3.3"/><circle cx="1575.73" cy="650.30" r="3.3"/><circle cx="1579.46" cy="522.20" r="3.3"/><circle cx="1583.19" cy="515.74" r="3.3"/><circle cx="1586.93" cy="512.46" r="3.3"/><circle cx="1590.66" cy="513.83" r="3.3"/><circle cx="1594.39" cy="512.90" r="3.3"/><circle cx="1598.13" cy="512.08" r="3.3"/><circle cx="1601.86" cy="514.43" r="3.3"/><circle cx="1605.59" cy="515.55" r="3.3"/><circle cx="1609.33" cy="513.08" r="3.3"/><circle cx="1613.06" cy="514.02" r="3.3"/><circle cx="1616.80" cy="514.95" r="3.3"/><circle cx="1620.53" cy="515.87" r="3.3"/><circle cx="1624.26" cy="514.87" r="3.3"/><circle cx="1628.00" cy="513.00" r="3.3"/><circle cx="1631.73" cy="518.00" r="3.3"/><circle cx="1635.46" cy="517.42" r="3.3"/><circle cx="1639.20" cy="513.05" r="3.3"/><circle cx="1642.93" cy="513.98" r="3.3"/><circle cx="1646.66" cy="514.92" r="3.3"/><circle cx="1650.40" cy="514.20" r="3.3"/><circle cx="1654.13" cy="515.90" r="3.3"/><circle cx="1657.87" cy="513.10" r="3.3"/><circle cx="1661.60" cy="513.00" r="3.3"/><circle cx="1665.33" cy="513.00" r="3.3"/><circle cx="1669.07" cy="514.53" r="3.3"/><circle cx="1672.80" cy="515.00" r="3.3"/><circle cx="1675.70" cy="749.60" r="3.3"/></g><polygon points="429.50,795.1 429.50,769.82 433.23,769.55 436.97,769.88 440.70,769.50 444.43,769.74 448.17,769.71 451.90,769.38 455.64,769.64 459.37,769.32 463.10,769.53 466.84,769.29 470.57,768.56 474.30,768.82 478.04,769.38 481.77,769.01 485.50,768.89 489.24,769.22 492.97,769.74 496.71,769.68 500.44,769.47 504.17,769.92 507.91,769.26 511.64,769.67 515.37,769.35 519.11,769.02 522.84,769.39 526.57,769.44 530.31,769.98 534.04,769.67 537.78,769.88 541.51,770.07 545.24,769.91 548.98,770.00 552.71,769.56 556.44,769.30 560.18,769.28 563.91,769.75 567.64,769.78 571.38,769.68 575.11,769.89 578.85,769.89 582.58,769.73 586.31,770.13 590.05,770.28 593.78,769.91 597.51,770.02 601.25,770.04 604.98,770.40 608.71,770.47 612.45,770.07 616.18,770.52 619.92,769.93 623.65,769.88 627.38,770.18 631.12,769.76 634.85,769.85 638.58,769.45 642.32,769.84 646.05,770.17 649.78,770.17 653.52,769.88 657.25,769.50 660.99,769.66 664.72,769.65 668.45,769.63 672.19,769.49 675.92,769.80 679.65,770.08 683.39,769.78 687.12,769.79 690.85,769.20 694.59,769.48 698.32,769.60 702.06,770.61 705.79,770.69 709.52,770.20 713.26,770.00 716.99,770.17 720.72,769.63 724.46,769.74 728.19,769.51 731.92,769.32 735.66,769.15 739.39,769.76 743.13,769.49 746.86,769.44 750.59,769.55 754.33,770.10 758.06,769.64 761.79,769.73 765.53,769.89 769.26,770.32 772.99,770.51 776.73,770.67 780.46,770.18 784.20,770.02 787.93,769.87 791.66,770.31 795.40,770.64 799.13,770.04 802.86,769.70 806.60,769.55 810.33,769.46 814.06,769.66 817.80,769.89 821.53,769.69 825.27,769.32 829.00,769.51 832.73,769.58 836.47,769.81 840.20,770.34 843.93,770.39 847.67,770.25 851.40,770.27 855.13,770.34 858.87,769.76 862.60,770.25 866.34,770.43 870.07,770.63 873.80,770.68 877.54,770.30 881.27,770.08 885.00,769.65 888.74,769.92 892.47,769.52 896.20,769.28 899.94,769.28 903.67,769.23 907.41,769.38 911.14,769.18 914.87,769.01 918.61,769.06 922.34,769.03 926.07,769.28 929.81,769.10 933.54,769.83 937.27,770.01 941.01,769.66 944.74,769.55 948.48,769.58 952.21,769.61 955.94,769.39 959.68,769.98 963.41,770.48 967.14,770.26 970.88,770.14 974.61,769.67 978.34,769.40 982.08,769.48 985.81,769.46 989.55,770.00 993.28,769.66 997.01,769.32 1000.75,770.04 1004.48,770.05 1008.21,769.68 1011.95,769.85 1015.68,769.44 1019.41,769.69 1023.15,770.29 1026.88,770.54 1030.62,770.52 1034.35,770.07 1038.08,769.91 1041.82,769.61 1045.55,770.04 1049.28,770.06 1053.02,770.31 1056.75,770.02 1060.48,769.73 1064.22,770.15 1067.95,770.58 1071.68,770.70 1075.42,770.72 1079.15,770.75 1082.89,770.69 1086.62,770.14 1090.35,770.10 1094.09,769.92 1097.82,769.48 1101.55,769.22 1105.29,769.31 1109.02,769.34 1112.75,769.80 1116.49,770.34 1120.22,770.15 1123.96,770.53 1127.69,770.80 1131.42,770.94 1135.16,770.43 1138.89,769.98 1142.62,769.71 1146.36,769.52 1150.09,769.42 1153.82,769.78 1157.56,770.27 1161.29,770.50 1165.03,770.28 1168.76,770.32 1172.49,770.49 1176.23,769.88 1179.96,770.09 1183.69,770.46 1187.43,770.56 1191.16,770.59 1194.89,770.33 1198.63,769.88 1202.36,770.21 1206.10,769.96 1209.83,770.28 1213.56,770.64 1217.30,770.28 1221.03,770.07 1224.76,770.49 1228.50,770.52 1232.23,769.98 1235.96,769.62 1239.70,769.42 1243.43,770.06 1247.17,770.34 1250.90,769.85 1254.63,770.24 1258.37,770.62 1262.10,770.53 1265.83,770.17 1269.57,770.15 1273.30,769.72 1277.03,769.35 1280.77,770.08 1284.50,770.20 1288.24,770.14 1291.97,770.52 1295.70,770.25 1299.44,770.52 1303.17,770.64 1306.90,770.09 1310.64,769.81 1314.37,769.68 1318.10,769.55 1321.84,769.81 1325.57,769.65 1329.31,769.71 1333.04,767.66 1336.77,768.28 1340.51,768.10 1344.24,768.10 1347.97,768.22 1351.71,768.62 1355.44,768.37 1359.17,768.72 1362.91,768.51 1366.64,768.42 1370.38,768.36 1374.11,767.81 1377.84,767.91 1381.58,767.71 1385.31,767.41 1389.04,768.02 1392.78,767.77 1396.51,767.91 1400.24,768.25 1403.98,768.29 1407.71,768.08 1411.45,768.15 1415.18,768.22 1418.91,768.50 1422.65,768.48 1426.38,768.63 1430.11,768.41 1433.85,768.30 1437.58,768.73 1441.31,768.73 1445.05,768.78 1448.78,769.01 1452.52,769.30 1456.25,769.00 1459.98,768.99 1463.72,768.88 1467.45,768.82 1471.18,768.97 1474.92,768.81 1478.65,768.80 1482.38,768.74 1486.12,769.16 1489.85,769.18 1493.59,769.36 1497.32,769.54 1501.05,768.96 1504.79,768.92 1508.52,769.27 1512.25,769.38 1515.99,768.75 1519.72,768.35 1523.45,768.43 1527.19,768.11 1530.92,768.09 1534.66,767.91 1538.39,768.39 1542.12,768.80 1545.86,769.16 1549.59,768.63 1553.32,768.87 1557.06,768.96 1560.79,768.50 1564.52,768.96 1568.26,769.33 1571.99,768.80 1575.73,769.21 1579.46,768.90 1583.19,768.81 1586.93,769.26 1590.66,769.37 1594.39,768.76 1598.13,768.67 1601.86,768.70 1605.59,768.54 1609.33,768.30 1613.06,768.28 1616.80,768.67 1620.53,768.20 1624.26,768.45 1628.00,768.49 1631.73,768.09 1635.46,768.17 1639.20,768.50 1642.93,768.60 1646.66,768.20 1650.40,768.89 1654.13,769.10 1657.87,769.41 1661.60,768.73 1665.33,768.48 1669.07,768.11 1672.80,768.63 1675.70,791.00 1675.70,795.1" fill="rgba(220,220,220,0.2)"/><polyline points="429.50,769.82 433.23,769.55 436.97,769.88 440.70,769.50 444.43,769.74 448.17,769.71 451.90,769.38 455.64,769.64 459.37,769.32 463.10,769.53 466.84,769.29 470.57,768.56 474.30,768.82 478.04,769.38 481.77,769.01 485.50,768.89 489.24,769.22 492.97,769.74 496.71,769.68 500.44,769.47 504.17,769.92 507.91,769.26 511.64,769.67 515.37,769.35 519.11,769.02 522.84,769.39 526.57,769.44 530.31,769.98 534.04,769.67 537.78,769.88 541.51,770.07 545.24,769.91 548.98,770.00 552.71,769.56 556.44,769.30 560.18,769.28 563.91,769.75 567.64,769.78 571.38,769.68 575.11,769.89 578.85,769.89 582.58,769.73 586.31,770.13 590.05,770.28 593.78,769.91 597.51,770.02 601.25,770.04 604.98,770.40 608.71,770.47 612.45,770.07 616.18,770.52 619.92,769.93 623.65,769.88 627.38,770.18 631.12,769.76 634.85,769.85 638.58,769.45 642.32,769.84 646.05,770.17 649.78,770.17 653.52,769.88 657.25,769.50 660.99,769.66 664.72,769.65 668.45,769.63 672.19,769.49 675.92,769.80 679.65,770.08 683.39,769.78 687.12,769.79 690.85,769.20 694.59,769.48 698.32,769.60 702.06,770.61 705.79,770.69 709.52,770.20 713.26,770.00 716.99,770.17 720.72,769.63 724.46,769.74 728.19,769.51 731.92,769.32 735.66,769.15 739.39,769.76 743.13,769.49 746.86,769.44 750.59,769.55 754.33,770.10 758.06,769.64 761.79,769.73 765.53,769.89 769.26,770.32 772.99,770.51 776.73,770.67 780.46,770.18 784.20,770.02 787.93,769.87 791.66,770.31 795.40,770.64 799.13,770.04 802.86,769.70 806.60,769.55 810.33,769.46 814.06,769.66 817.80,769.89 821.53,769.69 825.27,769.32 829.00,769.51 832.73,769.58 836.47,769.81 840.20,770.34 843.93,770.39 847.67,770.25 851.40,770.27 855.13,770.34 858.87,769.76 862.60,770.25 866.34,770.43 870.07,770.63 873.80,770.68 877.54,770.30 881.27,770.08 885.00,769.65 888.74,769.92 892.47,769.52 896.20,769.28 899.94,769.28 903.67,769.23 907.41,769.38 911.14,769.18 914.87,769.01 918.61,769.06 922.34,769.03 926.07,769.28 929.81,769.10 933.54,769.83 937.27,770.01 941.01,769.66 944.74,769.55 948.48,769.58 952.21,769.61 955.94,769.39 959.68,769.98 963.41,770.48 967.14,770.26 970.88,770.14 974.61,769.67 978.34,769.40 982.08,769.48 985.81,769.46 989.55,770.00 993.28,769.66 997.01,769.32 1000.75,770.04 1004.48,770.05 1008.21,769.68 1011.95,769.85 1015.68,769.44 1019.41,769.69 1023.15,770.29 1026.88,770.54 1030.62,770.52 1034.35,770.07 1038.08,769.91 1041.82,769.61 1045.55,770.04 1049.28,770.06 1053.02,770.31 1056.75,770.02 1060.48,769.73 1064.22,770.15 1067.95,770.58 1071.68,770.70 1075.42,770.72 1079.15,770.75 1082.89,770.69 1086.62,770.14 1090.35,770.10 1094.09,769.92 1097.82,769.48 1101.55,769.22 1105.29,769.31 1109.02,769.34 1112.75,769.80 1116.49,770.34 1120.22,770.15 1123.96,770.53 1127.69,770.80 1131.42,770.94 1135.16,770.43 1138.89,769.98 1142.62,769.71 1146.36,769.52 1150.09,769.42 1153.82,769.78 1157.56,770.27 1161.29,770.50 1165.03,770.28 1168.76,770.32 1172.49,770.49 1176.23,769.88 1179.96,770.09 1183.69,770.46 1187.43,770.56 1191.16,770.59 1194.89,770.33 1198.63,769.88 1202.36,770.21 1206.10,769.96 1209.83,770.28 1213.56,770.64 1217.30,770.28 1221.03,770.07 1224.76,770.49 1228.50,770.52 1232.23,769.98 1235.96,769.62 1239.70,769.42 1243.43,770.06 1247.17,770.34 1250.90,769.85 1254.63,770.24 1258.37,770.62 1262.10,770.53 1265.83,770.17 1269.57,770.15 1273.30,769.72 1277.03,769.35 1280.77,770.08 1284.50,770.20 1288.24,770.14 1291.97,770.52 1295.70,770.25 1299.44,770.52 1303.17,770.64 1306.90,770.09 1310.64,769.81 1314.37,769.68 1318.10,769.55 1321.84,769.81 1325.57,769.65 1329.31,769.71 1333.04,767.66 1336.77,768.28 1340.51,768.10 1344.24,768.10 1347.97,768.22 1351.71,768.62 1355.44,768.37 1359.17,768.72 1362.91,768.51 1366.64,768.42 1370.38,768.36 1374.11,767.81 1377.84,767.91 1381.58,767.71 1385.31,767.41 1389.04,768.02 1392.78,767.77 1396.51,767.91 1400.24,768.25 1403.98,768.29 1407.71,768.08 1411.45,768.15 1415.18,768.22 1418.91,768.50 1422.65,768.48 1426.38,768.63 1430.11,768.41 1433.85,768.30 1437.58,768.73 1441.31,768.73 1445.05,768.78 1448.78,769.01 1452.52,769.30 1456.25,769.00 1459.98,768.99 1463.72,768.88 1467.45,768.82 1471.18,768.97 1474.92,768.81 1478.65,768.80 1482.38,768.74 1486.12,769.16 1489.85,769.18 1493.59,769.36 1497.32,769.54 1501.05,768.96 1504.79,768.92 1508.52,769.27 1512.25,769.38 1515.99,768.75 1519.72,768.35 1523.45,768.43 1527.19,768.11 1530.92,768.09 1534.66,767.91 1538.39,768.39 1542.12,768.80 1545.86,769.16 1549.59,768.63 1553.32,768.87 1557.06,768.96 1560.79,768.50 1564.52,768.96 1568.26,769.33 1571.99,768.80 1575.73,769.21 1579.46,768.90 1583.19,768.81 1586.93,769.26 1590.66,769.37 1594.39,768.76 1598.13,768.67 1601.86,768.70 1605.59,768.54 1609.33,768.30 1613.06,768.28 1616.80,768.67 1620.53,768.20 1624.26,768.45 1628.00,768.49 1631.73,768.09 1635.46,768.17 1639.20,768.50 1642.93,768.60 1646.66,768.20 1650.40,768.89 1654.13,769.10 1657.87,769.41 1661.60,768.73 1665.33,768.48 1669.07,768.11 1672.80,768.63 1675.70,791.00" fill="none" stroke="#dcdcdc" stroke-width="1"/><g fill="rgba(230,230,230,0.5)" stroke="#dcdcdc" stroke-width="1.5"><circle cx="429.50" cy="769.82" r="3.4"/><circle cx="433.23" cy="769.55" r="3.4"/><circle cx="436.97" cy="769.88" r="3.4"/><circle cx="440.70" cy="769.50" r="3.4"/><circle cx="444.43" cy="769.74" r="3.4"/><circle cx="448.17" cy="769.71" r="3.4"/><circle cx="451.90" cy="769.38" r="3.4"/><circle cx="455.64" cy="769.64" r="3.4"/><circle cx="459.37" cy="769.32" r="3.4"/><circle cx="463.10" cy="769.53" r="3.4"/><circle cx="466.84" cy="769.29" r="3.4"/><circle cx="470.57" cy="768.56" r="3.4"/><circle cx="474.30" cy="768.82" r="3.4"/><circle cx="478.04" cy="769.38" r="3.4"/><circle cx="481.77" cy="769.01" r="3.4"/><circle cx="485.50" cy="768.89" r="3.4"/><circle cx="489.24" cy="769.22" r="3.4"/><circle cx="492.97" cy="769.74" r="3.4"/><circle cx="496.71" cy="769.68" r="3.4"/><circle cx="500.44" cy="769.47" r="3.4"/><circle cx="504.17" cy="769.92" r="3.4"/><circle cx="507.91" cy="769.26" r="3.4"/><circle cx="511.64" cy="769.67" r="3.4"/><circle cx="515.37" cy="769.35" r="3.4"/><circle cx="519.11" cy="769.02" r="3.4"/><circle cx="522.84" cy="769.39" r="3.4"/><circle cx="526.57" cy="769.44" r="3.4"/><circle cx="530.31" cy="769.98" r="3.4"/><circle cx="534.04" cy="769.67" r="3.4"/><circle cx="537.78" cy="769.88" r="3.4"/><circle cx="541.51" cy="770.07" r="3.4"/><circle cx="545.24" cy="769.91" r="3.4"/><circle cx="548.98" cy="770.00" r="3.4"/><circle cx="552.71" cy="769.56" r="3.4"/><circle cx="556.44" cy="769.30" r="3.4"/><circle cx="560.18" cy="769.28" r="3.4"/><circle cx="563.91" cy="769.75" r="3.4"/><circle cx="567.64" cy="769.78" r="3.4"/><circle cx="571.38" cy="769.68" r="3.4"/><circle cx="575.11" cy="769.89" r="3.4"/><circle cx="578.85" cy="769.89" r="3.4"/><circle cx="582.58" cy="769.73" r="3.4"/><circle cx="586.31" cy="770.13" r="3.4"/><circle cx="590.05" cy="770.28" r="3.4"/><circle cx="593.78" cy="769.91" r="3.4"/><circle cx="597.51" cy="770.02" r="3.4"/><circle cx="601.25" cy="770.04" r="3.4"/><circle cx="604.98" cy="770.40" r="3.4"/><circle cx="608.71" cy="770.47" r="3.4"/><circle cx="612.45" cy="770.07" r="3.4"/><circle cx="616.18" cy="770.52" r="3.4"/><circle cx="619.92" cy="769.93" r="3.4"/><circle cx="623.65" cy="769.88" r="3.4"/><circle cx="627.38" cy="770.18" r="3.4"/><circle cx="631.12" cy="769.76" r="3.4"/><circle cx="634.85" cy="769.85" r="3.4"/><circle cx="638.58" cy="769.45" r="3.4"/><circle cx="642.32" cy="769.84" r="3.4"/><circle cx="646.05" cy="770.17" r="3.4"/><circle cx="649.78" cy="770.17" r="3.4"/><circle cx="653.52" cy="769.88" r="3.4"/><circle cx="657.25" cy="769.50" r="3.4"/><circle cx="660.99" cy="769.66" r="3.4"/><circle cx="664.72" cy="769.65" r="3.4"/><circle cx="668.45" cy="769.63" r="3.4"/><circle cx="672.19" cy="769.49" r="3.4"/><circle cx="675.92" cy="769.80" r="3.4"/><circle cx="679.65" cy="770.08" r="3.4"/><circle cx="683.39" cy="769.78" r="3.4"/><circle cx="687.12" cy="769.79" r="3.4"/><circle cx="690.85" cy="769.20" r="3.4"/><circle cx="694.59" cy="769.48" r="3.4"/><circle cx="698.32" cy="769.60" r="3.4"/><circle cx="702.06" cy="770.61" r="3.4"/><circle cx="705.79" cy="770.69" r="3.4"/><circle cx="709.52" cy="770.20" r="3.4"/><circle cx="713.26" cy="770.00" r="3.4"/><circle cx="716.99" cy="770.17" r="3.4"/><circle cx="720.72" cy="769.63" r="3.4"/><circle cx="724.46" cy="769.74" r="3.4"/><circle cx="728.19" cy="769.51" r="3.4"/><circle cx="731.92" cy="769.32" r="3.4"/><circle cx="735.66" cy="769.15" r="3.4"/><circle cx="739.39" cy="769.76" r="3.4"/><circle cx="743.13" cy="769.49" r="3.4"/><circle cx="746.86" cy="769.44" r="3.4"/><circle cx="750.59" cy="769.55" r="3.4"/><circle cx="754.33" cy="770.10" r="3.4"/><circle cx="758.06" cy="769.64" r="3.4"/><circle cx="761.79" cy="769.73" r="3.4"/><circle cx="765.53" cy="769.89" r="3.4"/><circle cx="769.26" cy="770.32" r="3.4"/><circle cx="772.99" cy="770.51" r="3.4"/><circle cx="776.73" cy="770.67" r="3.4"/><circle cx="780.46" cy="770.18" r="3.4"/><circle cx="784.20" cy="770.02" r="3.4"/><circle cx="787.93" cy="769.87" r="3.4"/><circle cx="791.66" cy="770.31" r="3.4"/><circle cx="795.40" cy="770.64" r="3.4"/><circle cx="799.13" cy="770.04" r="3.4"/><circle cx="802.86" cy="769.70" r="3.4"/><circle cx="806.60" cy="769.55" r="3.4"/><circle cx="810.33" cy="769.46" r="3.4"/><circle cx="814.06" cy="769.66" r="3.4"/><circle cx="817.80" cy="769.89" r="3.4"/><circle cx="821.53" cy="769.69" r="3.4"/><circle cx="825.27" cy="769.32" r="3.4"/><circle cx="829.00" cy="769.51" r="3.4"/><circle cx="832.73" cy="769.58" r="3.4"/><circle cx="836.47" cy="769.81" r="3.4"/><circle cx="840.20" cy="770.34" r="3.4"/><circle cx="843.93" cy="770.39" r="3.4"/><circle cx="847.67" cy="770.25" r="3.4"/><circle cx="851.40" cy="770.27" r="3.4"/><circle cx="855.13" cy="770.34" r="3.4"/><circle cx="858.87" cy="769.76" r="3.4"/><circle cx="862.60" cy="770.25" r="3.4"/><circle cx="866.34" cy="770.43" r="3.4"/><circle cx="870.07" cy="770.63" r="3.4"/><circle cx="873.80" cy="770.68" r="3.4"/><circle cx="877.54" cy="770.30" r="3.4"/><circle cx="881.27" cy="770.08" r="3.4"/><circle cx="885.00" cy="769.65" r="3.4"/><circle cx="888.74" cy="769.92" r="3.4"/><circle cx="892.47" cy="769.52" r="3.4"/><circle cx="896.20" cy="769.28" r="3.4"/><circle cx="899.94" cy="769.28" r="3.4"/><circle cx="903.67" cy="769.23" r="3.4"/><circle cx="907.41" cy="769.38" r="3.4"/><circle cx="911.14" cy="769.18" r="3.4"/><circle cx="914.87" cy="769.01" r="3.4"/><circle cx="918.61" cy="769.06" r="3.4"/><circle cx="922.34" cy="769.03" r="3.4"/><circle cx="926.07" cy="769.28" r="3.4"/><circle cx="929.81" cy="769.10" r="3.4"/><circle cx="933.54" cy="769.83" r="3.4"/><circle cx="937.27" cy="770.01" r="3.4"/><circle cx="941.01" cy="769.66" r="3.4"/><circle cx="944.74" cy="769.55" r="3.4"/><circle cx="948.48" cy="769.58" r="3.4"/><circle cx="952.21" cy="769.61" r="3.4"/><circle cx="955.94" cy="769.39" r="3.4"/><circle cx="959.68" cy="769.98" r="3.4"/><circle cx="963.41" cy="770.48" r="3.4"/><circle cx="967.14" cy="770.26" r="3.4"/><circle cx="970.88" cy="770.14" r="3.4"/><circle cx="974.61" cy="769.67" r="3.4"/><circle cx="978.34" cy="769.40" r="3.4"/><circle cx="982.08" cy="769.48" r="3.4"/><circle cx="985.81" cy="769.46" r="3.4"/><circle cx="989.55" cy="770.00" r="3.4"/><circle cx="993.28" cy="769.66" r="3.4"/><circle cx="997.01" cy="769.32" r="3.4"/><circle cx="1000.75" cy="770.04" r="3.4"/><circle cx="1004.48" cy="770.05" r="3.4"/><circle cx="1008.21" cy="769.68" r="3.4"/><circle cx="1011.95" cy="769.85" r="3.4"/><circle cx="1015.68" cy="769.44" r="3.4"/><circle cx="1019.41" cy="769.69" r="3.4"/><circle cx="1023.15" cy="770.29" r="3.4"/><circle cx="1026.88" cy="770.54" r="3.4"/><circle cx="1030.62" cy="770.52" r="3.4"/><circle cx="1034.35" cy="770.07" r="3.4"/><circle cx="1038.08" cy="769.91" r="3.4"/><circle cx="1041.82" cy="769.61" r="3.4"/><circle cx="1045.55" cy="770.04" r="3.4"/><circle cx="1049.28" cy="770.06" r="3.4"/><circle cx="1053.02" cy="770.31" r="3.4"/><circle cx="1056.75" cy="770.02" r="3.4"/><circle cx="1060.48" cy="769.73" r="3.4"/><circle cx="1064.22" cy="770.15" r="3.4"/><circle cx="1067.95" cy="770.58" r="3.4"/><circle cx="1071.68" cy="770.70" r="3.4"/><circle cx="1075.42" cy="770.72" r="3.4"/><circle cx="1079.15" cy="770.75" r="3.4"/><circle cx="1082.89" cy="770.69" r="3.4"/><circle cx="1086.62" cy="770.14" r="3.4"/><circle cx="1090.35" cy="770.10" r="3.4"/><circle cx="1094.09" cy="769.92" r="3.4"/><circle cx="1097.82" cy="769.48" r="3.4"/><circle cx="1101.55" cy="769.22" r="3.4"/><circle cx="1105.29" cy="769.31" r="3.4"/><circle cx="1109.02" cy="769.34" r="3.4"/><circle cx="1112.75" cy="769.80" r="3.4"/><circle cx="1116.49" cy="770.34" r="3.4"/><circle cx="1120.22" cy="770.15" r="3.4"/><circle cx="1123.96" cy="770.53" r="3.4"/><circle cx="1127.69" cy="770.80" r="3.4"/><circle cx="1131.42" cy="770.94" r="3.4"/><circle cx="1135.16" cy="770.43" r="3.4"/><circle cx="1138.89" cy="769.98" r="3.4"/><circle cx="1142.62" cy="769.71" r="3.4"/><circle cx="1146.36" cy="769.52" r="3.4"/><circle cx="1150.09" cy="769.42" r="3.4"/><circle cx="1153.82" cy="769.78" r="3.4"/><circle cx="1157.56" cy="770.27" r="3.4"/><circle cx="1161.29" cy="770.50" r="3.4"/><circle cx="1165.03" cy="770.28" r="3.4"/><circle cx="1168.76" cy="770.32" r="3.4"/><circle cx="1172.49" cy="770.49" r="3.4"/><circle cx="1176.23" cy="769.88" r="3.4"/><circle cx="1179.96" cy="770.09" r="3.4"/><circle cx="1183.69" cy="770.46" r="3.4"/><circle cx="1187.43" cy="770.56" r="3.4"/><circle cx="1191.16" cy="770.59" r="3.4"/><circle cx="1194.89" cy="770.33" r="3.4"/><circle cx="1198.63" cy="769.88" r="3.4"/><circle cx="1202.36" cy="770.21" r="3.4"/><circle cx="1206.10" cy="769.96" r="3.4"/><circle cx="1209.83" cy="770.28" r="3.4"/><circle cx="1213.56" cy="770.64" r="3.4"/><circle cx="1217.30" cy="770.28" r="3.4"/><circle cx="1221.03" cy="770.07" r="3.4"/><circle cx="1224.76" cy="770.49" r="3.4"/><circle cx="1228.50" cy="770.52" r="3.4"/><circle cx="1232.23" cy="769.98" r="3.4"/><circle cx="1235.96" cy="769.62" r="3.4"/><circle cx="1239.70" cy="769.42" r="3.4"/><circle cx="1243.43" cy="770.06" r="3.4"/><circle cx="1247.17" cy="770.34" r="3.4"/><circle cx="1250.90" cy="769.85" r="3.4"/><circle cx="1254.63" cy="770.24" r="3.4"/><circle cx="1258.37" cy="770.62" r="3.4"/><circle cx="1262.10" cy="770.53" r="3.4"/><circle cx="1265.83" cy="770.17" r="3.4"/><circle cx="1269.57" cy="770.15" r="3.4"/><circle cx="1273.30" cy="769.72" r="3.4"/><circle cx="1277.03" cy="769.35" r="3.4"/><circle cx="1280.77" cy="770.08" r="3.4"/><circle cx="1284.50" cy="770.20" r="3.4"/><circle cx="1288.24" cy="770.14" r="3.4"/><circle cx="1291.97" cy="770.52" r="3.4"/><circle cx="1295.70" cy="770.25" r="3.4"/><circle cx="1299.44" cy="770.52" r="3.4"/><circle cx="1303.17" cy="770.64" r="3.4"/><circle cx="1306.90" cy="770.09" r="3.4"/><circle cx="1310.64" cy="769.81" r="3.4"/><circle cx="1314.37" cy="769.68" r="3.4"/><circle cx="1318.10" cy="769.55" r="3.4"/><circle cx="1321.84" cy="769.81" r="3.4"/><circle cx="1325.57" cy="769.65" r="3.4"/><circle cx="1329.31" cy="769.71" r="3.4"/><circle cx="1333.04" cy="767.66" r="3.4"/><circle cx="1336.77" cy="768.28" r="3.4"/><circle cx="1340.51" cy="768.10" r="3.4"/><circle cx="1344.24" cy="768.10" r="3.4"/><circle cx="1347.97" cy="768.22" r="3.4"/><circle cx="1351.71" cy="768.62" r="3.4"/><circle cx="1355.44" cy="768.37" r="3.4"/><circle cx="1359.17" cy="768.72" r="3.4"/><circle cx="1362.91" cy="768.51" r="3.4"/><circle cx="1366.64" cy="768.42" r="3.4"/><circle cx="1370.38" cy="768.36" r="3.4"/><circle cx="1374.11" cy="767.81" r="3.4"/><circle cx="1377.84" cy="767.91" r="3.4"/><circle cx="1381.58" cy="767.71" r="3.4"/><circle cx="1385.31" cy="767.41" r="3.4"/><circle cx="1389.04" cy="768.02" r="3.4"/><circle cx="1392.78" cy="767.77" r="3.4"/><circle cx="1396.51" cy="767.91" r="3.4"/><circle cx="1400.24" cy="768.25" r="3.4"/><circle cx="1403.98" cy="768.29" r="3.4"/><circle cx="1407.71" cy="768.08" r="3.4"/><circle cx="1411.45" cy="768.15" r="3.4"/><circle cx="1415.18" cy="768.22" r="3.4"/><circle cx="1418.91" cy="768.50" r="3.4"/><circle cx="1422.65" cy="768.48" r="3.4"/><circle cx="1426.38" cy="768.63" r="3.4"/><circle cx="1430.11" cy="768.41" r="3.4"/><circle cx="1433.85" cy="768.30" r="3.4"/><circle cx="1437.58" cy="768.73" r="3.4"/><circle cx="1441.31" cy="768.73" r="3.4"/><circle cx="1445.05" cy="768.78" r="3.4"/><circle cx="1448.78" cy="769.01" r="3.4"/><circle cx="1452.52" cy="769.30" r="3.4"/><circle cx="1456.25" cy="769.00" r="3.4"/><circle cx="1459.98" cy="768.99" r="3.4"/><circle cx="1463.72" cy="768.88" r="3.4"/><circle cx="1467.45" cy="768.82" r="3.4"/><circle cx="1471.18" cy="768.97" r="3.4"/><circle cx="1474.92" cy="768.81" r="3.4"/><circle cx="1478.65" cy="768.80" r="3.4"/><circle cx="1482.38" cy="768.74" r="3.4"/><circle cx="1486.12" cy="769.16" r="3.4"/><circle cx="1489.85" cy="769.18" r="3.4"/><circle cx="1493.59" cy="769.36" r="3.4"/><circle cx="1497.32" cy="769.54" r="3.4"/><circle cx="1501.05" cy="768.96" r="3.4"/><circle cx="1504.79" cy="768.92" r="3.4"/><circle cx="1508.52" cy="769.27" r="3.4"/><circle cx="1512.25" cy="769.38" r="3.4"/><circle cx="1515.99" cy="768.75" r="3.4"/><circle cx="1519.72" cy="768.35" r="3.4"/><circle cx="1523.45" cy="768.43" r="3.4"/><circle cx="1527.19" cy="768.11" r="3.4"/><circle cx="1530.92" cy="768.09" r="3.4"/><circle cx="1534.66" cy="767.91" r="3.4"/><circle cx="1538.39" cy="768.39" r="3.4"/><circle cx="1542.12" cy="768.80" r="3.4"/><circle cx="1545.86" cy="769.16" r="3.4"/><circle cx="1549.59" cy="768.63" r="3.4"/><circle cx="1553.32" cy="768.87" r="3.4"/><circle cx="1557.06" cy="768.96" r="3.4"/><circle cx="1560.79" cy="768.50" r="3.4"/><circle cx="1564.52" cy="768.96" r="3.4"/><circle cx="1568.26" cy="769.33" r="3.4"/><circle cx="1571.99" cy="768.80" r="3.4"/><circle cx="1575.73" cy="769.21" r="3.4"/><circle cx="1579.46" cy="768.90" r="3.4"/><circle cx="1583.19" cy="768.81" r="3.4"/><circle cx="1586.93" cy="769.26" r="3.4"/><circle cx="1590.66" cy="769.37" r="3.4"/><circle cx="1594.39" cy="768.76" r="3.4"/><circle cx="1598.13" cy="768.67" r="3.4"/><circle cx="1601.86" cy="768.70" r="3.4"/><circle cx="1605.59" cy="768.54" r="3.4"/><circle cx="1609.33" cy="768.30" r="3.4"/><circle cx="1613.06" cy="768.28" r="3.4"/><circle cx="1616.80" cy="768.67" r="3.4"/><circle cx="1620.53" cy="768.20" r="3.4"/><circle cx="1624.26" cy="768.45" r="3.4"/><circle cx="1628.00" cy="768.49" r="3.4"/><circle cx="1631.73" cy="768.09" r="3.4"/><circle cx="1635.46" cy="768.17" r="3.4"/><circle cx="1639.20" cy="768.50" r="3.4"/><circle cx="1642.93" cy="768.60" r="3.4"/><circle cx="1646.66" cy="768.20" r="3.4"/><circle cx="1650.40" cy="768.89" r="3.4"/><circle cx="1654.13" cy="769.10" r="3.4"/><circle cx="1657.87" cy="769.41" r="3.4"/><circle cx="1661.60" cy="768.73" r="3.4"/><circle cx="1665.33" cy="768.48" r="3.4"/><circle cx="1669.07" cy="768.11" r="3.4"/><circle cx="1672.80" cy="768.63" r="3.4"/><circle cx="1675.70" cy="791.00" r="3.4"/></g></g><rect x="907.5" y="843.5" width="49" height="15" fill="rgba(151,187,205,0.2)" stroke="#97bbcd" stroke-width="1"/><text x="963" y="855" class="ct">Bytes in</text><rect x="1026.5" y="843.5" width="49" height="15" fill="rgba(220,220,220,0.2)" stroke="#dcdcdc" stroke-width="1"/><text x="1082.5" y="855" class="ct">Bytes out</text><line x1="418" y1="870.50" x2="1676" y2="870.50" stroke="rgba(0,0,0,0.1)" stroke-width="1"/><text x="417.5" y="874.80" class="ct" text-anchor="end">40 K</text><line x1="418" y1="909.50" x2="1676" y2="909.50" stroke="rgba(0,0,0,0.1)" stroke-width="1"/><text x="417.5" y="913.80" class="ct" text-anchor="end">35 K</text><line x1="418" y1="948.50" x2="1676" y2="948.50" stroke="rgba(0,0,0,0.1)" stroke-width="1"/><text x="417.5" y="952.80" class="ct" text-anchor="end">30 K</text><line x1="418" y1="987.50" x2="1676" y2="987.50" stroke="rgba(0,0,0,0.1)" stroke-width="1"/><text x="417.5" y="991.80" class="ct" text-anchor="end">25 K</text><line x1="429.5" y1="870.5" x2="429.5" y2="998" stroke="rgba(0,0,0,0.1)"/><line x1="504.30" y1="870.5" x2="504.30" y2="998" stroke="rgba(0,0,0,0.25)"/><line x1="683.32" y1="870.5" x2="683.32" y2="998" stroke="rgba(0,0,0,0.1)"/><line x1="862.34" y1="870.5" x2="862.34" y2="998" stroke="rgba(0,0,0,0.1)"/><line x1="1041.36" y1="870.5" x2="1041.36" y2="998" stroke="rgba(0,0,0,0.1)"/><line x1="1220.38" y1="870.5" x2="1220.38" y2="998" stroke="rgba(0,0,0,0.1)"/><line x1="1399.40" y1="870.5" x2="1399.40" y2="998" stroke="rgba(0,0,0,0.1)"/><line x1="1578.42" y1="870.5" x2="1578.42" y2="998" stroke="rgba(0,0,0,0.1)"/><g clip-path="url(#c2)"><polygon points="429.50,1200 429.50,1100.00 433.23,1100.00 436.97,1100.00 440.70,1100.00 444.43,1100.00 448.17,1100.00 451.90,1100.00 455.64,1100.00 459.37,1100.00 463.10,1100.00 466.84,1100.00 470.57,1100.00 474.30,1100.00 478.04,1100.00 481.77,1100.00 485.50,1100.00 489.24,1100.00 492.97,1100.00 496.71,1100.00 500.44,1100.00 504.17,1100.00 507.91,1100.00 511.64,1100.00 515.37,1100.00 519.11,1100.00 522.84,1100.00 526.57,1100.00 530.31,1100.00 534.04,1100.00 537.78,1100.00 541.51,1100.00 545.24,1100.00 548.98,1100.00 552.71,1100.00 556.44,1100.00 560.18,1100.00 563.91,1100.00 567.64,1100.00 571.38,1100.00 575.11,1100.00 578.85,1100.00 582.58,1100.00 586.31,1100.00 590.05,1100.00 593.78,1100.00 597.51,1100.00 601.25,1100.00 604.98,1100.00 608.71,1100.00 612.45,1100.00 616.18,1100.00 619.92,880.80 623.65,1100.00 627.38,1100.00 631.12,1100.00 634.85,1100.00 638.58,1100.00 642.32,1100.00 646.05,1100.00 649.78,1100.00 653.52,1100.00 657.25,1100.00 660.99,1100.00 664.72,1100.00 668.45,1100.00 672.19,1100.00 675.92,1100.00 679.65,1100.00 683.39,1100.00 687.12,1100.00 690.85,1100.00 694.59,1100.00 698.32,1100.00 702.06,1100.00 705.79,1100.00 709.52,1100.00 713.26,1100.00 716.99,1100.00 720.72,1100.00 724.46,1100.00 728.19,1100.00 731.92,1100.00 735.66,1100.00 739.39,1100.00 743.13,1100.00 746.86,1100.00 750.59,1100.00 754.33,1100.00 758.06,1100.00 761.79,1100.00 765.53,1100.00 769.26,1100.00 772.99,1100.00 776.73,1100.00 780.46,1100.00 784.20,1100.00 787.93,1100.00 791.66,1100.00 795.40,1100.00 799.13,1100.00 802.86,1100.00 806.60,1100.00 810.33,1100.00 814.06,1100.00 817.80,1100.00 821.53,1100.00 825.27,1100.00 829.00,1100.00 832.73,1100.00 836.47,1100.00 840.20,1100.00 843.93,1100.00 847.67,1100.00 851.40,1100.00 855.13,1100.00 858.87,1100.00 862.60,1100.00 866.34,1100.00 870.07,1100.00 873.80,1100.00 877.54,1100.00 881.27,1100.00 885.00,1100.00 888.74,1100.00 892.47,1100.00 896.20,1100.00 899.94,1100.00 903.67,1100.00 907.41,1100.00 911.14,1100.00 914.87,1100.00 918.61,1100.00 922.34,1100.00 926.07,1100.00 929.81,1100.00 933.54,1100.00 937.27,1100.00 941.01,1100.00 944.74,1100.00 948.48,1100.00 952.21,1100.00 955.94,1100.00 959.68,1100.00 963.41,1100.00 967.14,1100.00 970.88,1100.00 974.61,1100.00 978.34,1100.00 982.08,1100.00 985.81,1100.00 989.55,1100.00 993.28,1100.00 997.01,1100.00 1000.75,1100.00 1004.48,1100.00 1008.21,1100.00 1011.95,1100.00 1015.68,1100.00 1019.41,1100.00 1023.15,1100.00 1026.88,1100.00 1030.62,1100.00 1034.35,1100.00 1038.08,1100.00 1041.82,1100.00 1045.55,1100.00 1049.28,1100.00 1053.02,1100.00 1056.75,1100.00 1060.48,1100.00 1064.22,1100.00 1067.95,1100.00 1071.68,1100.00 1075.42,1100.00 1079.15,1100.00 1082.89,1100.00 1086.62,1100.00 1090.35,1100.00 1094.09,1100.00 1097.82,1100.00 1101.55,1100.00 1105.29,1100.00 1109.02,1100.00 1112.75,1100.00 1116.49,1100.00 1120.22,1100.00 1123.96,1100.00 1127.69,1100.00 1131.42,1100.00 1135.16,1100.00 1138.89,1100.00 1142.62,1100.00 1146.36,1100.00 1150.09,1100.00 1153.82,1100.00 1157.56,1100.00 1161.29,1100.00 1165.03,1100.00 1168.76,1100.00 1172.49,1100.00 1176.23,1100.00 1179.96,1100.00 1183.69,1100.00 1187.43,1100.00 1191.16,1100.00 1194.89,1100.00 1198.63,1100.00 1202.36,1100.00 1206.10,1100.00 1209.83,1100.00 1213.56,1100.00 1217.30,1100.00 1221.03,1100.00 1224.76,1100.00 1228.50,1100.00 1232.23,1100.00 1235.96,1100.00 1239.70,1100.00 1243.43,1100.00 1247.17,1100.00 1250.90,1100.00 1254.63,1100.00 1258.37,1100.00 1262.10,1100.00 1265.83,1100.00 1269.57,1100.00 1273.30,1100.00 1277.03,1100.00 1280.77,1100.00 1284.50,1100.00 1288.24,1100.00 1291.97,1100.00 1295.70,1100.00 1299.44,1100.00 1303.17,1100.00 1306.90,1100.00 1310.64,1100.00 1314.37,1100.00 1318.10,1100.00 1321.84,1100.00 1325.57,1100.00 1329.31,1100.00 1333.04,1100.00 1336.77,1100.00 1340.51,1100.00 1344.24,1100.00 1347.97,1100.00 1351.71,1100.00 1355.44,1100.00 1359.17,1100.00 1362.91,1100.00 1366.64,1100.00 1370.38,1100.00 1374.11,1100.00 1377.84,1100.00 1381.58,1100.00 1385.31,1100.00 1389.04,1100.00 1392.78,1100.00 1396.51,1100.00 1400.24,1100.00 1403.98,1100.00 1407.71,1100.00 1411.45,1100.00 1415.18,1100.00 1418.91,1100.00 1422.65,1100.00 1426.38,1100.00 1430.11,1100.00 1433.85,1100.00 1437.58,1100.00 1441.31,1100.00 1445.05,1100.00 1448.78,1100.00 1452.52,1100.00 1456.25,1100.00 1459.98,1100.00 1463.72,1100.00 1467.45,1100.00 1471.18,1100.00 1474.92,1100.00 1478.65,1100.00 1482.38,1100.00 1486.12,1100.00 1489.85,1100.00 1493.59,1100.00 1497.32,1100.00 1501.05,1100.00 1504.79,1100.00 1508.52,1100.00 1512.25,1100.00 1515.99,1100.00 1519.72,1100.00 1523.45,1100.00 1527.19,1100.00 1530.92,1100.00 1534.66,1100.00 1538.39,1100.00 1542.12,1100.00 1545.86,1100.00 1549.59,1100.00 1553.32,1100.00 1557.06,1100.00 1560.79,1100.00 1564.52,1100.00 1568.26,1100.00 1571.99,1100.00 1575.73,1100.00 1579.46,929.80 1583.19,924.30 1586.93,919.50 1590.66,920.90 1594.39,918.80 1598.13,918.10 1601.86,919.50 1605.59,922.90 1609.33,915.30 1613.06,920.90 1616.80,922.90 1620.53,924.30 1624.26,922.20 1628.00,920.90 1631.73,925.70 1635.46,925.70 1639.20,920.90 1642.93,922.20 1646.66,922.90 1650.40,921.50 1654.13,923.60 1657.87,918.80 1661.60,920.20 1665.33,920.20 1669.07,922.20 1672.80,922.90 1675.70,1100.00 1675.70,1200" fill="rgba(151,187,205,0.22)"/><polyline points="429.50,1100.00 433.23,1100.00 436.97,1100.00 440.70,1100.00 444.43,1100.00 448.17,1100.00 451.90,1100.00 455.64,1100.00 459.37,1100.00 463.10,1100.00 466.84,1100.00 470.57,1100.00 474.30,1100.00 478.04,1100.00 481.77,1100.00 485.50,1100.00 489.24,1100.00 492.97,1100.00 496.71,1100.00 500.44,1100.00 504.17,1100.00 507.91,1100.00 511.64,1100.00 515.37,1100.00 519.11,1100.00 522.84,1100.00 526.57,1100.00 530.31,1100.00 534.04,1100.00 537.78,1100.00 541.51,1100.00 545.24,1100.00 548.98,1100.00 552.71,1100.00 556.44,1100.00 560.18,1100.00 563.91,1100.00 567.64,1100.00 571.38,1100.00 575.11,1100.00 578.85,1100.00 582.58,1100.00 586.31,1100.00 590.05,1100.00 593.78,1100.00 597.51,1100.00 601.25,1100.00 604.98,1100.00 608.71,1100.00 612.45,1100.00 616.18,1100.00 619.92,880.80 623.65,1100.00 627.38,1100.00 631.12,1100.00 634.85,1100.00 638.58,1100.00 642.32,1100.00 646.05,1100.00 649.78,1100.00 653.52,1100.00 657.25,1100.00 660.99,1100.00 664.72,1100.00 668.45,1100.00 672.19,1100.00 675.92,1100.00 679.65,1100.00 683.39,1100.00 687.12,1100.00 690.85,1100.00 694.59,1100.00 698.32,1100.00 702.06,1100.00 705.79,1100.00 709.52,1100.00 713.26,1100.00 716.99,1100.00 720.72,1100.00 724.46,1100.00 728.19,1100.00 731.92,1100.00 735.66,1100.00 739.39,1100.00 743.13,1100.00 746.86,1100.00 750.59,1100.00 754.33,1100.00 758.06,1100.00 761.79,1100.00 765.53,1100.00 769.26,1100.00 772.99,1100.00 776.73,1100.00 780.46,1100.00 784.20,1100.00 787.93,1100.00 791.66,1100.00 795.40,1100.00 799.13,1100.00 802.86,1100.00 806.60,1100.00 810.33,1100.00 814.06,1100.00 817.80,1100.00 821.53,1100.00 825.27,1100.00 829.00,1100.00 832.73,1100.00 836.47,1100.00 840.20,1100.00 843.93,1100.00 847.67,1100.00 851.40,1100.00 855.13,1100.00 858.87,1100.00 862.60,1100.00 866.34,1100.00 870.07,1100.00 873.80,1100.00 877.54,1100.00 881.27,1100.00 885.00,1100.00 888.74,1100.00 892.47,1100.00 896.20,1100.00 899.94,1100.00 903.67,1100.00 907.41,1100.00 911.14,1100.00 914.87,1100.00 918.61,1100.00 922.34,1100.00 926.07,1100.00 929.81,1100.00 933.54,1100.00 937.27,1100.00 941.01,1100.00 944.74,1100.00 948.48,1100.00 952.21,1100.00 955.94,1100.00 959.68,1100.00 963.41,1100.00 967.14,1100.00 970.88,1100.00 974.61,1100.00 978.34,1100.00 982.08,1100.00 985.81,1100.00 989.55,1100.00 993.28,1100.00 997.01,1100.00 1000.75,1100.00 1004.48,1100.00 1008.21,1100.00 1011.95,1100.00 1015.68,1100.00 1019.41,1100.00 1023.15,1100.00 1026.88,1100.00 1030.62,1100.00 1034.35,1100.00 1038.08,1100.00 1041.82,1100.00 1045.55,1100.00 1049.28,1100.00 1053.02,1100.00 1056.75,1100.00 1060.48,1100.00 1064.22,1100.00 1067.95,1100.00 1071.68,1100.00 1075.42,1100.00 1079.15,1100.00 1082.89,1100.00 1086.62,1100.00 1090.35,1100.00 1094.09,1100.00 1097.82,1100.00 1101.55,1100.00 1105.29,1100.00 1109.02,1100.00 1112.75,1100.00 1116.49,1100.00 1120.22,1100.00 1123.96,1100.00 1127.69,1100.00 1131.42,1100.00 1135.16,1100.00 1138.89,1100.00 1142.62,1100.00 1146.36,1100.00 1150.09,1100.00 1153.82,1100.00 1157.56,1100.00 1161.29,1100.00 1165.03,1100.00 1168.76,1100.00 1172.49,1100.00 1176.23,1100.00 1179.96,1100.00 1183.69,1100.00 1187.43,1100.00 1191.16,1100.00 1194.89,1100.00 1198.63,1100.00 1202.36,1100.00 1206.10,1100.00 1209.83,1100.00 1213.56,1100.00 1217.30,1100.00 1221.03,1100.00 1224.76,1100.00 1228.50,1100.00 1232.23,1100.00 1235.96,1100.00 1239.70,1100.00 1243.43,1100.00 1247.17,1100.00 1250.90,1100.00 1254.63,1100.00 1258.37,1100.00 1262.10,1100.00 1265.83,1100.00 1269.57,1100.00 1273.30,1100.00 1277.03,1100.00 1280.77,1100.00 1284.50,1100.00 1288.24,1100.00 1291.97,1100.00 1295.70,1100.00 1299.44,1100.00 1303.17,1100.00 1306.90,1100.00 1310.64,1100.00 1314.37,1100.00 1318.10,1100.00 1321.84,1100.00 1325.57,1100.00 1329.31,1100.00 1333.04,1100.00 1336.77,1100.00 1340.51,1100.00 1344.24,1100.00 1347.97,1100.00 1351.71,1100.00 1355.44,1100.00 1359.17,1100.00 1362.91,1100.00 1366.64,1100.00 1370.38,1100.00 1374.11,1100.00 1377.84,1100.00 1381.58,1100.00 1385.31,1100.00 1389.04,1100.00 1392.78,1100.00 1396.51,1100.00 1400.24,1100.00 1403.98,1100.00 1407.71,1100.00 1411.45,1100.00 1415.18,1100.00 1418.91,1100.00 1422.65,1100.00 1426.38,1100.00 1430.11,1100.00 1433.85,1100.00 1437.58,1100.00 1441.31,1100.00 1445.05,1100.00 1448.78,1100.00 1452.52,1100.00 1456.25,1100.00 1459.98,1100.00 1463.72,1100.00 1467.45,1100.00 1471.18,1100.00 1474.92,1100.00 1478.65,1100.00 1482.38,1100.00 1486.12,1100.00 1489.85,1100.00 1493.59,1100.00 1497.32,1100.00 1501.05,1100.00 1504.79,1100.00 1508.52,1100.00 1512.25,1100.00 1515.99,1100.00 1519.72,1100.00 1523.45,1100.00 1527.19,1100.00 1530.92,1100.00 1534.66,1100.00 1538.39,1100.00 1542.12,1100.00 1545.86,1100.00 1549.59,1100.00 1553.32,1100.00 1557.06,1100.00 1560.79,1100.00 1564.52,1100.00 1568.26,1100.00 1571.99,1100.00 1575.73,1100.00 1579.46,929.80 1583.19,924.30 1586.93,919.50 1590.66,920.90 1594.39,918.80 1598.13,918.10 1601.86,919.50 1605.59,922.90 1609.33,915.30 1613.06,920.90 1616.80,922.90 1620.53,924.30 1624.26,922.20 1628.00,920.90 1631.73,925.70 1635.46,925.70 1639.20,920.90 1642.93,922.20 1646.66,922.90 1650.40,921.50 1654.13,923.60 1657.87,918.80 1661.60,920.20 1665.33,920.20 1669.07,922.20 1672.80,922.90 1675.70,1100.00" fill="none" stroke="#97bbcd" stroke-width="1"/><g fill="rgba(232,239,243,0.25)" stroke="#97bbcd" stroke-width="1.3"><circle cx="429.50" cy="1100.00" r="3.3"/><circle cx="433.23" cy="1100.00" r="3.3"/><circle cx="436.97" cy="1100.00" r="3.3"/><circle cx="440.70" cy="1100.00" r="3.3"/><circle cx="444.43" cy="1100.00" r="3.3"/><circle cx="448.17" cy="1100.00" r="3.3"/><circle cx="451.90" cy="1100.00" r="3.3"/><circle cx="455.64" cy="1100.00" r="3.3"/><circle cx="459.37" cy="1100.00" r="3.3"/><circle cx="463.10" cy="1100.00" r="3.3"/><circle cx="466.84" cy="1100.00" r="3.3"/><circle cx="470.57" cy="1100.00" r="3.3"/><circle cx="474.30" cy="1100.00" r="3.3"/><circle cx="478.04" cy="1100.00" r="3.3"/><circle cx="481.77" cy="1100.00" r="3.3"/><circle cx="485.50" cy="1100.00" r="3.3"/><circle cx="489.24" cy="1100.00" r="3.3"/><circle cx="492.97" cy="1100.00" r="3.3"/><circle cx="496.71" cy="1100.00" r="3.3"/><circle cx="500.44" cy="1100.00" r="3.3"/><circle cx="504.17" cy="1100.00" r="3.3"/><circle cx="507.91" cy="1100.00" r="3.3"/><circle cx="511.64" cy="1100.00" r="3.3"/><circle cx="515.37" cy="1100.00" r="3.3"/><circle cx="519.11" cy="1100.00" r="3.3"/><circle cx="522.84" cy="1100.00" r="3.3"/><circle cx="526.57" cy="1100.00" r="3.3"/><circle cx="530.31" cy="1100.00" r="3.3"/><circle cx="534.04" cy="1100.00" r="3.3"/><circle cx="537.78" cy="1100.00" r="3.3"/><circle cx="541.51" cy="1100.00" r="3.3"/><circle cx="545.24" cy="1100.00" r="3.3"/><circle cx="548.98" cy="1100.00" r="3.3"/><circle cx="552.71" cy="1100.00" r="3.3"/><circle cx="556.44" cy="1100.00" r="3.3"/><circle cx="560.18" cy="1100.00" r="3.3"/><circle cx="563.91" cy="1100.00" r="3.3"/><circle cx="567.64" cy="1100.00" r="3.3"/><circle cx="571.38" cy="1100.00" r="3.3"/><circle cx="575.11" cy="1100.00" r="3.3"/><circle cx="578.85" cy="1100.00" r="3.3"/><circle cx="582.58" cy="1100.00" r="3.3"/><circle cx="586.31" cy="1100.00" r="3.3"/><circle cx="590.05" cy="1100.00" r="3.3"/><circle cx="593.78" cy="1100.00" r="3.3"/><circle cx="597.51" cy="1100.00" r="3.3"/><circle cx="601.25" cy="1100.00" r="3.3"/><circle cx="604.98" cy="1100.00" r="3.3"/><circle cx="608.71" cy="1100.00" r="3.3"/><circle cx="612.45" cy="1100.00" r="3.3"/><circle cx="616.18" cy="1100.00" r="3.3"/><circle cx="619.92" cy="880.80" r="3.3"/><circle cx="623.65" cy="1100.00" r="3.3"/><circle cx="627.38" cy="1100.00" r="3.3"/><circle cx="631.12" cy="1100.00" r="3.3"/><circle cx="634.85" cy="1100.00" r="3.3"/><circle cx="638.58" cy="1100.00" r="3.3"/><circle cx="642.32" cy="1100.00" r="3.3"/><circle cx="646.05" cy="1100.00" r="3.3"/><circle cx="649.78" cy="1100.00" r="3.3"/><circle cx="653.52" cy="1100.00" r="3.3"/><circle cx="657.25" cy="1100.00" r="3.3"/><circle cx="660.99" cy="1100.00" r="3.3"/><circle cx="664.72" cy="1100.00" r="3.3"/><circle cx="668.45" cy="1100.00" r="3.3"/><circle cx="672.19" cy="1100.00" r="3.3"/><circle cx="675.92" cy="1100.00" r="3.3"/><circle cx="679.65" cy="1100.00" r="3.3"/><circle cx="683.39" cy="1100.00" r="3.3"/><circle cx="687.12" cy="1100.00" r="3.3"/><circle cx="690.85" cy="1100.00" r="3.3"/><circle cx="694.59" cy="1100.00" r="3.3"/><circle cx="698.32" cy="1100.00" r="3.3"/><circle cx="702.06" cy="1100.00" r="3.3"/><circle cx="705.79" cy="1100.00" r="3.3"/><circle cx="709.52" cy="1100.00" r="3.3"/><circle cx="713.26" cy="1100.00" r="3.3"/><circle cx="716.99" cy="1100.00" r="3.3"/><circle cx="720.72" cy="1100.00" r="3.3"/><circle cx="724.46" cy="1100.00" r="3.3"/><circle cx="728.19" cy="1100.00" r="3.3"/><circle cx="731.92" cy="1100.00" r="3.3"/><circle cx="735.66" cy="1100.00" r="3.3"/><circle cx="739.39" cy="1100.00" r="3.3"/><circle cx="743.13" cy="1100.00" r="3.3"/><circle cx="746.86" cy="1100.00" r="3.3"/><circle cx="750.59" cy="1100.00" r="3.3"/><circle cx="754.33" cy="1100.00" r="3.3"/><circle cx="758.06" cy="1100.00" r="3.3"/><circle cx="761.79" cy="1100.00" r="3.3"/><circle cx="765.53" cy="1100.00" r="3.3"/><circle cx="769.26" cy="1100.00" r="3.3"/><circle cx="772.99" cy="1100.00" r="3.3"/><circle cx="776.73" cy="1100.00" r="3.3"/><circle cx="780.46" cy="1100.00" r="3.3"/><circle cx="784.20" cy="1100.00" r="3.3"/><circle cx="787.93" cy="1100.00" r="3.3"/><circle cx="791.66" cy="1100.00" r="3.3"/><circle cx="795.40" cy="1100.00" r="3.3"/><circle cx="799.13" cy="1100.00" r="3.3"/><circle cx="802.86" cy="1100.00" r="3.3"/><circle cx="806.60" cy="1100.00" r="3.3"/><circle cx="810.33" cy="1100.00" r="3.3"/><circle cx="814.06" cy="1100.00" r="3.3"/><circle cx="817.80" cy="1100.00" r="3.3"/><circle cx="821.53" cy="1100.00" r="3.3"/><circle cx="825.27" cy="1100.00" r="3.3"/><circle cx="829.00" cy="1100.00" r="3.3"/><circle cx="832.73" cy="1100.00" r="3.3"/><circle cx="836.47" cy="1100.00" r="3.3"/><circle cx="840.20" cy="1100.00" r="3.3"/><circle cx="843.93" cy="1100.00" r="3.3"/><circle cx="847.67" cy="1100.00" r="3.3"/><circle cx="851.40" cy="1100.00" r="3.3"/><circle cx="855.13" cy="1100.00" r="3.3"/><circle cx="858.87" cy="1100.00" r="3.3"/><circle cx="862.60" cy="1100.00" r="3.3"/><circle cx="866.34" cy="1100.00" r="3.3"/><circle cx="870.07" cy="1100.00" r="3.3"/><circle cx="873.80" cy="1100.00" r="3.3"/><circle cx="877.54" cy="1100.00" r="3.3"/><circle cx="881.27" cy="1100.00" r="3.3"/><circle cx="885.00" cy="1100.00" r="3.3"/><circle cx="888.74" cy="1100.00" r="3.3"/><circle cx="892.47" cy="1100.00" r="3.3"/><circle cx="896.20" cy="1100.00" r="3.3"/><circle cx="899.94" cy="1100.00" r="3.3"/><circle cx="903.67" cy="1100.00" r="3.3"/><circle cx="907.41" cy="1100.00" r="3.3"/><circle cx="911.14" cy="1100.00" r="3.3"/><circle cx="914.87" cy="1100.00" r="3.3"/><circle cx="918.61" cy="1100.00" r="3.3"/><circle cx="922.34" cy="1100.00" r="3.3"/><circle cx="926.07" cy="1100.00" r="3.3"/><circle cx="929.81" cy="1100.00" r="3.3"/><circle cx="933.54" cy="1100.00" r="3.3"/><circle cx="937.27" cy="1100.00" r="3.3"/><circle cx="941.01" cy="1100.00" r="3.3"/><circle cx="944.74" cy="1100.00" r="3.3"/><circle cx="948.48" cy="1100.00" r="3.3"/><circle cx="952.21" cy="1100.00" r="3.3"/><circle cx="955.94" cy="1100.00" r="3.3"/><circle cx="959.68" cy="1100.00" r="3.3"/><circle cx="963.41" cy="1100.00" r="3.3"/><circle cx="967.14" cy="1100.00" r="3.3"/><circle cx="970.88" cy="1100.00" r="3.3"/><circle cx="974.61" cy="1100.00" r="3.3"/><circle cx="978.34" cy="1100.00" r="3.3"/><circle cx="982.08" cy="1100.00" r="3.3"/><circle cx="985.81" cy="1100.00" r="3.3"/><circle cx="989.55" cy="1100.00" r="3.3"/><circle cx="993.28" cy="1100.00" r="3.3"/><circle cx="997.01" cy="1100.00" r="3.3"/><circle cx="1000.75" cy="1100.00" r="3.3"/><circle cx="1004.48" cy="1100.00" r="3.3"/><circle cx="1008.21" cy="1100.00" r="3.3"/><circle cx="1011.95" cy="1100.00" r="3.3"/><circle cx="1015.68" cy="1100.00" r="3.3"/><circle cx="1019.41" cy="1100.00" r="3.3"/><circle cx="1023.15" cy="1100.00" r="3.3"/><circle cx="1026.88" cy="1100.00" r="3.3"/><circle cx="1030.62" cy="1100.00" r="3.3"/><circle cx="1034.35" cy="1100.00" r="3.3"/><circle cx="1038.08" cy="1100.00" r="3.3"/><circle cx="1041.82" cy="1100.00" r="3.3"/><circle cx="1045.55" cy="1100.00" r="3.3"/><circle cx="1049.28" cy="1100.00" r="3.3"/><circle cx="1053.02" cy="1100.00" r="3.3"/><circle cx="1056.75" cy="1100.00" r="3.3"/><circle cx="1060.48" cy="1100.00" r="3.3"/><circle cx="1064.22" cy="1100.00" r="3.3"/><circle cx="1067.95" cy="1100.00" r="3.3"/><circle cx="1071.68" cy="1100.00" r="3.3"/><circle cx="1075.42" cy="1100.00" r="3.3"/><circle cx="1079.15" cy="1100.00" r="3.3"/><circle cx="1082.89" cy="1100.00" r="3.3"/><circle cx="1086.62" cy="1100.00" r="3.3"/><circle cx="1090.35" cy="1100.00" r="3.3"/><circle cx="1094.09" cy="1100.00" r="3.3"/><circle cx="1097.82" cy="1100.00" r="3.3"/><circle cx="1101.55" cy="1100.00" r="3.3"/><circle cx="1105.29" cy="1100.00" r="3.3"/><circle cx="1109.02" cy="1100.00" r="3.3"/><circle cx="1112.75" cy="1100.00" r="3.3"/><circle cx="1116.49" cy="1100.00" r="3.3"/><circle cx="1120.22" cy="1100.00" r="3.3"/><circle cx="1123.96" cy="1100.00" r="3.3"/><circle cx="1127.69" cy="1100.00" r="3.3"/><circle cx="1131.42" cy="1100.00" r="3.3"/><circle cx="1135.16" cy="1100.00" r="3.3"/><circle cx="1138.89" cy="1100.00" r="3.3"/><circle cx="1142.62" cy="1100.00" r="3.3"/><circle cx="1146.36" cy="1100.00" r="3.3"/><circle cx="1150.09" cy="1100.00" r="3.3"/><circle cx="1153.82" cy="1100.00" r="3.3"/><circle cx="1157.56" cy="1100.00" r="3.3"/><circle cx="1161.29" cy="1100.00" r="3.3"/><circle cx="1165.03" cy="1100.00" r="3.3"/><circle cx="1168.76" cy="1100.00" r="3.3"/><circle cx="1172.49" cy="1100.00" r="3.3"/><circle cx="1176.23" cy="1100.00" r="3.3"/><circle cx="1179.96" cy="1100.00" r="3.3"/><circle cx="1183.69" cy="1100.00" r="3.3"/><circle cx="1187.43" cy="1100.00" r="3.3"/><circle cx="1191.16" cy="1100.00" r="3.3"/><circle cx="1194.89" cy="1100.00" r="3.3"/><circle cx="1198.63" cy="1100.00" r="3.3"/><circle cx="1202.36" cy="1100.00" r="3.3"/><circle cx="1206.10" cy="1100.00" r="3.3"/><circle cx="1209.83" cy="1100.00" r="3.3"/><circle cx="1213.56" cy="1100.00" r="3.3"/><circle cx="1217.30" cy="1100.00" r="3.3"/><circle cx="1221.03" cy="1100.00" r="3.3"/><circle cx="1224.76" cy="1100.00" r="3.3"/><circle cx="1228.50" cy="1100.00" r="3.3"/><circle cx="1232.23" cy="1100.00" r="3.3"/><circle cx="1235.96" cy="1100.00" r="3.3"/><circle cx="1239.70" cy="1100.00" r="3.3"/><circle cx="1243.43" cy="1100.00" r="3.3"/><circle cx="1247.17" cy="1100.00" r="3.3"/><circle cx="1250.90" cy="1100.00" r="3.3"/><circle cx="1254.63" cy="1100.00" r="3.3"/><circle cx="1258.37" cy="1100.00" r="3.3"/><circle cx="1262.10" cy="1100.00" r="3.3"/><circle cx="1265.83" cy="1100.00" r="3.3"/><circle cx="1269.57" cy="1100.00" r="3.3"/><circle cx="1273.30" cy="1100.00" r="3.3"/><circle cx="1277.03" cy="1100.00" r="3.3"/><circle cx="1280.77" cy="1100.00" r="3.3"/><circle cx="1284.50" cy="1100.00" r="3.3"/><circle cx="1288.24" cy="1100.00" r="3.3"/><circle cx="1291.97" cy="1100.00" r="3.3"/><circle cx="1295.70" cy="1100.00" r="3.3"/><circle cx="1299.44" cy="1100.00" r="3.3"/><circle cx="1303.17" cy="1100.00" r="3.3"/><circle cx="1306.90" cy="1100.00" r="3.3"/><circle cx="1310.64" cy="1100.00" r="3.3"/><circle cx="1314.37" cy="1100.00" r="3.3"/><circle cx="1318.10" cy="1100.00" r="3.3"/><circle cx="1321.84" cy="1100.00" r="3.3"/><circle cx="1325.57" cy="1100.00" r="3.3"/><circle cx="1329.31" cy="1100.00" r="3.3"/><circle cx="1333.04" cy="1100.00" r="3.3"/><circle cx="1336.77" cy="1100.00" r="3.3"/><circle cx="1340.51" cy="1100.00" r="3.3"/><circle cx="1344.24" cy="1100.00" r="3.3"/><circle cx="1347.97" cy="1100.00" r="3.3"/><circle cx="1351.71" cy="1100.00" r="3.3"/><circle cx="1355.44" cy="1100.00" r="3.3"/><circle cx="1359.17" cy="1100.00" r="3.3"/><circle cx="1362.91" cy="1100.00" r="3.3"/><circle cx="1366.64" cy="1100.00" r="3.3"/><circle cx="1370.38" cy="1100.00" r="3.3"/><circle cx="1374.11" cy="1100.00" r="3.3"/><circle cx="1377.84" cy="1100.00" r="3.3"/><circle cx="1381.58" cy="1100.00" r="3.3"/><circle cx="1385.31" cy="1100.00" r="3.3"/><circle cx="1389.04" cy="1100.00" r="3.3"/><circle cx="1392.78" cy="1100.00" r="3.3"/><circle cx="1396.51" cy="1100.00" r="3.3"/><circle cx="1400.24" cy="1100.00" r="3.3"/><circle cx="1403.98" cy="1100.00" r="3.3"/><circle cx="1407.71" cy="1100.00" r="3.3"/><circle cx="1411.45" cy="1100.00" r="3.3"/><circle cx="1415.18" cy="1100.00" r="3.3"/><circle cx="1418.91" cy="1100.00" r="3.3"/><circle cx="1422.65" cy="1100.00" r="3.3"/><circle cx="1426.38" cy="1100.00" r="3.3"/><circle cx="1430.11" cy="1100.00" r="3.3"/><circle cx="1433.85" cy="1100.00" r="3.3"/><circle cx="1437.58" cy="1100.00" r="3.3"/><circle cx="1441.31" cy="1100.00" r="3.3"/><circle cx="1445.05" cy="1100.00" r="3.3"/><circle cx="1448.78" cy="1100.00" r="3.3"/><circle cx="1452.52" cy="1100.00" r="3.3"/><circle cx="1456.25" cy="1100.00" r="3.3"/><circle cx="1459.98" cy="1100.00" r="3.3"/><circle cx="1463.72" cy="1100.00" r="3.3"/><circle cx="1467.45" cy="1100.00" r="3.3"/><circle cx="1471.18" cy="1100.00" r="3.3"/><circle cx="1474.92" cy="1100.00" r="3.3"/><circle cx="1478.65" cy="1100.00" r="3.3"/><circle cx="1482.38" cy="1100.00" r="3.3"/><circle cx="1486.12" cy="1100.00" r="3.3"/><circle cx="1489.85" cy="1100.00" r="3.3"/><circle cx="1493.59" cy="1100.00" r="3.3"/><circle cx="1497.32" cy="1100.00" r="3.3"/><circle cx="1501.05" cy="1100.00" r="3.3"/><circle cx="1504.79" cy="1100.00" r="3.3"/><circle cx="1508.52" cy="1100.00" r="3.3"/><circle cx="1512.25" cy="1100.00" r="3.3"/><circle cx="1515.99" cy="1100.00" r="3.3"/><circle cx="1519.72" cy="1100.00" r="3.3"/><circle cx="1523.45" cy="1100.00" r="3.3"/><circle cx="1527.19" cy="1100.00" r="3.3"/><circle cx="1530.92" cy="1100.00" r="3.3"/><circle cx="1534.66" cy="1100.00" r="3.3"/><circle cx="1538.39" cy="1100.00" r="3.3"/><circle cx="1542.12" cy="1100.00" r="3.3"/><circle cx="1545.86" cy="1100.00" r="3.3"/><circle cx="1549.59" cy="1100.00" r="3.3"/><circle cx="1553.32" cy="1100.00" r="3.3"/><circle cx="1557.06" cy="1100.00" r="3.3"/><circle cx="1560.79" cy="1100.00" r="3.3"/><circle cx="1564.52" cy="1100.00" r="3.3"/><circle cx="1568.26" cy="1100.00" r="3.3"/><circle cx="1571.99" cy="1100.00" r="3.3"/><circle cx="1575.73" cy="1100.00" r="3.3"/><circle cx="1579.46" cy="929.80" r="3.3"/><circle cx="1583.19" cy="924.30" r="3.3"/><circle cx="1586.93" cy="919.50" r="3.3"/><circle cx="1590.66" cy="920.90" r="3.3"/><circle cx="1594.39" cy="918.80" r="3.3"/><circle cx="1598.13" cy="918.10" r="3.3"/><circle cx="1601.86" cy="919.50" r="3.3"/><circle cx="1605.59" cy="922.90" r="3.3"/><circle cx="1609.33" cy="915.30" r="3.3"/><circle cx="1613.06" cy="920.90" r="3.3"/><circle cx="1616.80" cy="922.90" r="3.3"/><circle cx="1620.53" cy="924.30" r="3.3"/><circle cx="1624.26" cy="922.20" r="3.3"/><circle cx="1628.00" cy="920.90" r="3.3"/><circle cx="1631.73" cy="925.70" r="3.3"/><circle cx="1635.46" cy="925.70" r="3.3"/><circle cx="1639.20" cy="920.90" r="3.3"/><circle cx="1642.93" cy="922.20" r="3.3"/><circle cx="1646.66" cy="922.90" r="3.3"/><circle cx="1650.40" cy="921.50" r="3.3"/><circle cx="1654.13" cy="923.60" r="3.3"/><circle cx="1657.87" cy="918.80" r="3.3"/><circle cx="1661.60" cy="920.20" r="3.3"/><circle cx="1665.33" cy="920.20" r="3.3"/><circle cx="1669.07" cy="922.20" r="3.3"/><circle cx="1672.80" cy="922.90" r="3.3"/><circle cx="1675.70" cy="1100.00" r="3.3"/></g></g></svg>
<div style="position:absolute;left:0;top:75px;width:272px;height:923px;background:#f1f1f1"></div>
<div style="position:absolute;left:272px;top:76px;width:11px;height:922px;background:#c1c1c1"></div>
<div style="position:absolute;left:275px;top:79px;width:6px;height:530px;background:#7b7e7e;border-radius:3px"></div>
<div class="t" style="left:67.50px;top:98.50px;font-size:17.6px;line-height:17.6px;color:#5f5f5f;font-weight:normal;">Dashboard</div>
<svg class="ic" style="left:19.6px;top:94.3px;width:22.1px;height:21.4px" viewBox="3 3 18 18" preserveAspectRatio="none" fill="#6f6f6f"><path d="M3 3h8v10H3zM13 3h8v6h-8zM13 11h8v10h-8zM3 15h8v6H3z"/></svg>
<div class="t" style="left:16.80px;top:155.80px;font-size:17.6px;line-height:17.6px;color:#5f5f5f;font-weight:normal;">Clients &amp; users</div>
<div class="t" style="left:16.80px;top:214.40px;font-size:17.6px;line-height:17.6px;color:#5f5f5f;font-weight:normal;">Cloud</div>
<div class="t" style="left:67.50px;top:271.80px;font-size:17.6px;line-height:17.6px;color:#3fae5d;font-weight:normal;">Instances</div>
<svg class="ic" style="left:19.8px;top:268.7px;width:21.7px;height:21px" viewBox="2 2 20 20" preserveAspectRatio="none" fill="#37ac58"><path d="M2 2h20v6H2zM2 9h20v6H2zM2 16h20v6H2z"/><g fill="#f1f1f1"><circle cx="5.5" cy="5" r="1.2"/><circle cx="5.5" cy="12" r="1.2"/><circle cx="5.5" cy="19" r="1.2"/></g></svg>
<div class="t" style="left:67.50px;top:329.80px;font-size:17.6px;line-height:17.6px;color:#5f5f5f;font-weight:normal;">Clusters</div>
<svg class="ic" style="left:19px;top:327.9px;width:23.7px;height:19.2px" viewBox="2 4 20 16" preserveAspectRatio="none" fill="#6f6f6f"><path d="M10 4H4c-1.1 0-1.99.9-1.99 2L2 18c0 1.1.9 2 2 2h16c1.1 0 2-.9 2-2V8c0-1.1-.9-2-2-2h-8l-2-2z"/></svg>
<div class="t" style="left:67.50px;top:387.80px;font-size:17.6px;line-height:17.6px;color:#5f5f5f;font-weight:normal;">Cluster Templates</div>
<svg class="ic" style="left:19px;top:386px;width:23.7px;height:19.2px" viewBox="2 4 20 16" preserveAspectRatio="none" fill="#6f6f6f"><path d="M10 4H4c-1.1 0-1.99.9-1.99 2L2 18c0 1.1.9 2 2 2h16c1.1 0 2-.9 2-2V8c0-1.1-.9-2-2-2h-8l-2-2z"/></svg>
<div class="t" style="left:67.50px;top:445.80px;font-size:17.6px;line-height:17.6px;color:#5f5f5f;font-weight:normal;">Networks</div>
<svg class="ic" style="left:16px;top:438.8px;width:29px;height:29.5px" viewBox="0 0 29 29" preserveAspectRatio="none" fill="#6f6f6f"><g fill="none" stroke="#6f6f6f" stroke-width="1"><path d="M5.5 17.5 C2 17.5 0.6 15.5 0.6 13.3 C0.6 11 2.3 9.3 4.5 9.3 C4.8 4.2 7.7 0.6 11.5 0.6 C14.5 0.6 16.4 2.4 17.3 4.6 C18 4.1 18.8 3.9 19.6 3.9 C22 3.9 23.9 5.6 24.2 8.2 C26.6 8.6 28.4 10.5 28.4 13 C28.4 15.6 26.6 17.5 23.8 17.5 Z"/><path d="M4.3 17.5v4M14.5 17.5v4M24.7 17.5v4"/><rect x="0.6" y="21.5" width="7.6" height="4.6"/><rect x="10.7" y="21.5" width="7.6" height="4.6"/><rect x="20.8" y="21.5" width="7.6" height="4.6"/><path d="M4.4 26.1v1.6M2.2 28.2h4.4M14.5 26.1v1.6M12.3 28.2h4.4M24.6 26.1v1.6M22.4 28.2h4.4"/></g></svg>
<div class="t" style="left:67.50px;top:503.80px;font-size:17.6px;line-height:17.6px;color:#5f5f5f;font-weight:normal;">Routers</div>
<svg class="ic" style="left:16.5px;top:496.2px;width:28.6px;height:29px" viewBox="0 0 29 29" preserveAspectRatio="none" fill="#6f6f6f"><circle cx="14.5" cy="14.5" r="13.7" fill="none" stroke="#6f6f6f" stroke-width="1.3"/><g fill="#6f6f6f"><path d="M13.3 13V7.2H11l3.5-4.2 3.5 4.2h-2.3V13z"/><path d="M13.3 16v5.8H11l3.5 4.2 3.5-4.2h-2.3V16z"/><path d="M3 13.3h6.3V11l3.8 3.5-3.8 3.5v-2.3H3z"/><path d="M26 13.3h-6.3V11l-3.8 3.5 3.8 3.5v-2.3H26z"/></g></svg>
<div class="t" style="left:67.50px;top:561.80px;font-size:17.6px;line-height:17.6px;color:#5f5f5f;font-weight:normal;">Ports</div>
<svg class="ic" style="left:16px;top:554.8px;width:29px;height:29.5px" viewBox="0 0 29 29" preserveAspectRatio="none" fill="#6f6f6f"><g fill="none" stroke="#6f6f6f" stroke-width="1"><path d="M5.5 17.5 C2 17.5 0.6 15.5 0.6 13.3 C0.6 11 2.3 9.3 4.5 9.3 C4.8 4.2 7.7 0.6 11.5 0.6 C14.5 0.6 16.4 2.4 17.3 4.6 C18 4.1 18.8 3.9 19.6 3.9 C22 3.9 23.9 5.6 24.2 8.2 C26.6 8.6 28.4 10.5 28.4 13 C28.4 15.6 26.6 17.5 23.8 17.5 Z"/><path d="M4.3 17.5v4M14.5 17.5v4M24.7 17.5v4"/><rect x="0.6" y="21.5" width="7.6" height="4.6"/><rect x="10.7" y="21.5" width="7.6" height="4.6"/><rect x="20.8" y="21.5" width="7.6" height="4.6"/><path d="M4.4 26.1v1.6M2.2 28.2h4.4M14.5 26.1v1.6M12.3 28.2h4.4M24.6 26.1v1.6M22.4 28.2h4.4"/></g></svg>
<div class="t" style="left:67.50px;top:619.80px;font-size:17.6px;line-height:17.6px;color:#5f5f5f;font-weight:normal;">Zones</div>
<svg class="ic" style="left:16.1px;top:612.8px;width:28.3px;height:28.5px" viewBox="0 0 29 29" preserveAspectRatio="none" fill="#6f6f6f"><g fill="none" stroke="#6f6f6f" stroke-width="2.3"><path d="M2.1 9.9 A13 13 0 0 1 26.5 9.9"/><path d="M2.1 19.3 A13 13 0 0 0 26.5 19.3"/></g><g fill="none" stroke="#6f6f6f" stroke-width="1.8"><path d="M4.6 7h19.4M4.6 22.2h19.4"/><path d="M6.5 9.9 A8.4 13 0 0 1 22.1 9.9"/><path d="M6.5 19.3 A8.4 13 0 0 0 22.1 19.3"/></g><text x="14.4" y="17.3" text-anchor="middle" font-family="Liberation Sans" font-weight="bold" font-size="9.6" fill="#6f6f6f" letter-spacing="1.4">www</text></svg>
<div class="t" style="left:67.50px;top:678.30px;font-size:17.6px;line-height:17.6px;color:#5f5f5f;font-weight:normal;">Security groups</div>
<svg class="ic" style="left:19.9px;top:672px;width:22.1px;height:25.9px" viewBox="3 1 18 22" preserveAspectRatio="none" fill="#6f6f6f"><path d="M12,12H19C18.47,16.11 15.72,19.78 12,20.92V12H5V6.3L12,3.19M12,1L3,5V11C3,16.55 6.84,21.73 12,23C17.16,21.73 21,16.55 21,11V5L12,1Z"/></svg>
<div class="t" style="left:67.50px;top:735.80px;font-size:17.6px;line-height:17.6px;color:#5f5f5f;font-weight:normal;">Subnet pools</div>
<svg class="ic" style="left:16.4px;top:729.6px;width:28px;height:26.4px" viewBox="0 0 28 27" preserveAspectRatio="none" fill="#6f6f6f"><g fill="none" stroke="#6f6f6f" stroke-width="1"><rect x="8.5" y="0.5" width="11" height="7"/><path d="M14 7.5v3M11.5 9.3h5"/><path d="M0.5 12h27M5 12v4M23 12v4"/><rect x="0.5" y="16.5" width="10" height="7"/><rect x="17.5" y="16.5" width="10" height="7"/><path d="M5.5 23.5v2.5M3 26h5M22.5 23.5v2.5M20 26h5"/></g></svg>
<div class="t" style="left:67.50px;top:793.80px;font-size:17.6px;line-height:17.6px;color:#5f5f5f;font-weight:normal;">Floating IPs</div>
<svg class="ic" style="left:19.8px;top:789.2px;width:23.4px;height:23.6px" viewBox="4 4 16 16" preserveAspectRatio="none" fill="#6f6f6f"><path d="M14 4l2.29 2.29-2.88 2.88 1.42 1.42 2.88-2.88L20 10V4zm-4 0H4v6l2.29-2.29 4.71 4.7V20h2v-8.41l-5.29-5.3z"/></svg>
<div class="t" style="left:67.50px;top:852.30px;font-size:17.6px;line-height:17.6px;color:#5f5f5f;font-weight:normal;">Flavor Groups</div>
<svg class="ic" style="left:19.8px;top:849.5px;width:21.9px;height:21.3px" viewBox="3 3 18 18" preserveAspectRatio="none" fill="#6f6f6f"><path d="M3 17v2h6v-2H3zM3 5v2h10V5H3zm10 16v-2h8v-2h-8v-2h-2v6h2zM7 9v2H3v2h4v2h2V9H7zm14 4v-2H11v2h10zm-6-4h2V7h4V5h-4V3h-2v6z"/></svg>
<div class="t" style="left:67.50px;top:909.80px;font-size:17.6px;line-height:17.6px;color:#5f5f5f;font-weight:normal;">Flavors</div>
<svg class="ic" style="left:19.8px;top:907px;width:21.9px;height:21.3px" viewBox="3 3 18 18" preserveAspectRatio="none" fill="#6f6f6f"><path d="M3 17v2h6v-2H3zM3 5v2h10V5H3zm10 16v-2h8v-2h-8v-2h-2v6h2zM7 9v2H3v2h4v2h2V9H7zm14 4v-2H11v2h10zm-6-4h2V7h4V5h-4V3h-2v6z"/></svg>
<div class="t" style="left:67.50px;top:968.30px;font-size:17.6px;line-height:17.6px;color:#5f5f5f;font-weight:normal;">SSH keys</div>
<svg class="ic" style="left:17px;top:968px;width:26.9px;height:14.2px" viewBox="1 6 22 12" preserveAspectRatio="none" fill="#6f6f6f"><path d="M12.65 10C11.83 7.67 9.61 6 7 6c-3.31 0-6 2.69-6 6s2.69 6 6 6c2.61 0 4.83-1.67 5.65-4H17v4h4v-4h2v-4H12.65zM7 14c-1.1 0-2-.9-2-2s.9-2 2-2 2 .9 2 2-.9 2-2 2z"/></svg>
<svg class="ic" style="left:246px;top:155px;width:12px;height:16px" viewBox="0 0 12 16"><path d="M2.5 2 9.5 8l-7 6" fill="none" stroke="#6a6a6a" stroke-width="2.2"/></svg>
<svg class="ic" style="left:243px;top:215px;width:16px;height:12px" viewBox="0 0 16 12"><path d="M1.5 2.5 8 9l6.5-6.5" fill="none" stroke="#6a6a6a" stroke-width="2.2"/></svg>
<div style="position:absolute;left:0;top:0;width:1765px;height:76px;background:#38ad5b;box-shadow:0 2px 4px rgba(0,0,0,0.3)"></div>
<svg class="ic" style="left:29px;top:29.5px;width:23px;height:17px" viewBox="0 0 23 17"><path d="M0.7 2.5h21.8M0.7 8.7h21.8M0.7 14.5h21.8" stroke="#fff" stroke-width="2.2"/></svg>
<svg class="ic" style="left:76px;top:22px;width:118px;height:32px" viewBox="76 22 118 32"><path fill="#fff" d="M95.6 24 L113.2 41.6 L107.6 47.2 L95.6 35.4 L83.6 47.2 L78 41.6 Z"/><path fill="#fff" d="M95.6 41 L101 46.4 L95.6 51.6 L90.2 46.4 Z"/></svg>
<div class="t" style="left:119.50px;top:19.76px;font-size:37.5px;line-height:37.5px;color:#fff;font-weight:normal;letter-spacing:0.6px">fleio</div>
<div style="position:absolute;left:152.5px;top:39px;width:39px;height:13px;background:#6b86ab"></div>
<div class="t" style="left:156.30px;top:41.03px;font-size:10.6px;line-height:10.6px;color:#fff;font-weight:bold;">STAFF</div>
<div style="position:absolute;left:212.5px;top:21px;width:1px;height:38px;background:rgba(255,255,255,0.35)"></div>
<div class="t" style="left:232.50px;top:28.68px;font-size:23.3px;line-height:23.3px;color:#fff;font-weight:normal;">Home</div>
<div class="t" style="left:338.50px;top:28.68px;font-size:23.3px;line-height:23.3px;color:#fff;font-weight:normal;">Instances</div>
<div class="t" style="left:474.50px;top:28.68px;font-size:23.3px;line-height:23.3px;color:#fff;font-weight:normal;">My instance</div>
<svg class="ic" style="left:311px;top:31px;width:13px;height:17px" viewBox="0 0 13 17"><path d="M2.7 2.6 9.3 8.9l-6.6 6.3" fill="none" stroke="#fff" stroke-width="2.1"/></svg>
<svg class="ic" style="left:453.5px;top:31px;width:13px;height:17px" viewBox="0 0 13 17"><path d="M2.7 2.6 9.3 8.9l-6.6 6.3" fill="none" stroke="#fff" stroke-width="2.1"/></svg>
<svg class="ic" style="left:1533px;top:27px;width:22px;height:24px" viewBox="3 1 18 20" preserveAspectRatio="none" fill="#fff"><path d="M19 3h-4.18C14.4 1.84 13.3 1 12 1c-1.3 0-2.4.84-2.82 2H5c-1.1 0-2 .9-2 2v14c0 1.1.9 2 2 2h14c1.1 0 2-.9 2-2V5c0-1.1-.9-2-2-2zm-7 0c.55 0 1 .45 1 1s-.45 1-1 1-1-.45-1-1 .45-1 1-1zm2 14H7v-2h7v2zm3-4H7v-2h10v2zm0-4H7V7h10v2z"/></svg>
<div class="t" style="left:1581.50px;top:29.88px;font-size:23.3px;line-height:23.3px;color:#fff;font-weight:normal;">Hello, Jane</div>
<svg class="ic" style="left:1717px;top:28px;width:30px;height:30px" viewBox="0 0 30 30"><defs><pattern id="pt" width="7.4" height="7.4" patternUnits="userSpaceOnUse" x="3.9" y="0.5"><rect width="7.4" height="7.4" fill="#fff"/><path d="M3.7 0.3 Q6.9 3.7 3.7 7.1 Q0.5 3.7 3.7 0.3Z M-3.40 0 Q0 3.2 3.40 0 Q0 -3.2 -3.40 0Z M4.00 0 Q7.4 3.2 10.80 0 Q7.4 -3.2 4.00 0Z M-3.40 7.4 Q0 10.600000000000001 3.40 7.4 Q0 4.2 -3.40 7.4Z M4.00 7.4 Q7.4 10.600000000000001 10.80 7.4 Q7.4 4.2 4.00 7.4Z" fill="#e8489a"/></pattern></defs><circle cx="15" cy="15.2" r="14.9" fill="url(#pt)"/></svg>
</body></html>
